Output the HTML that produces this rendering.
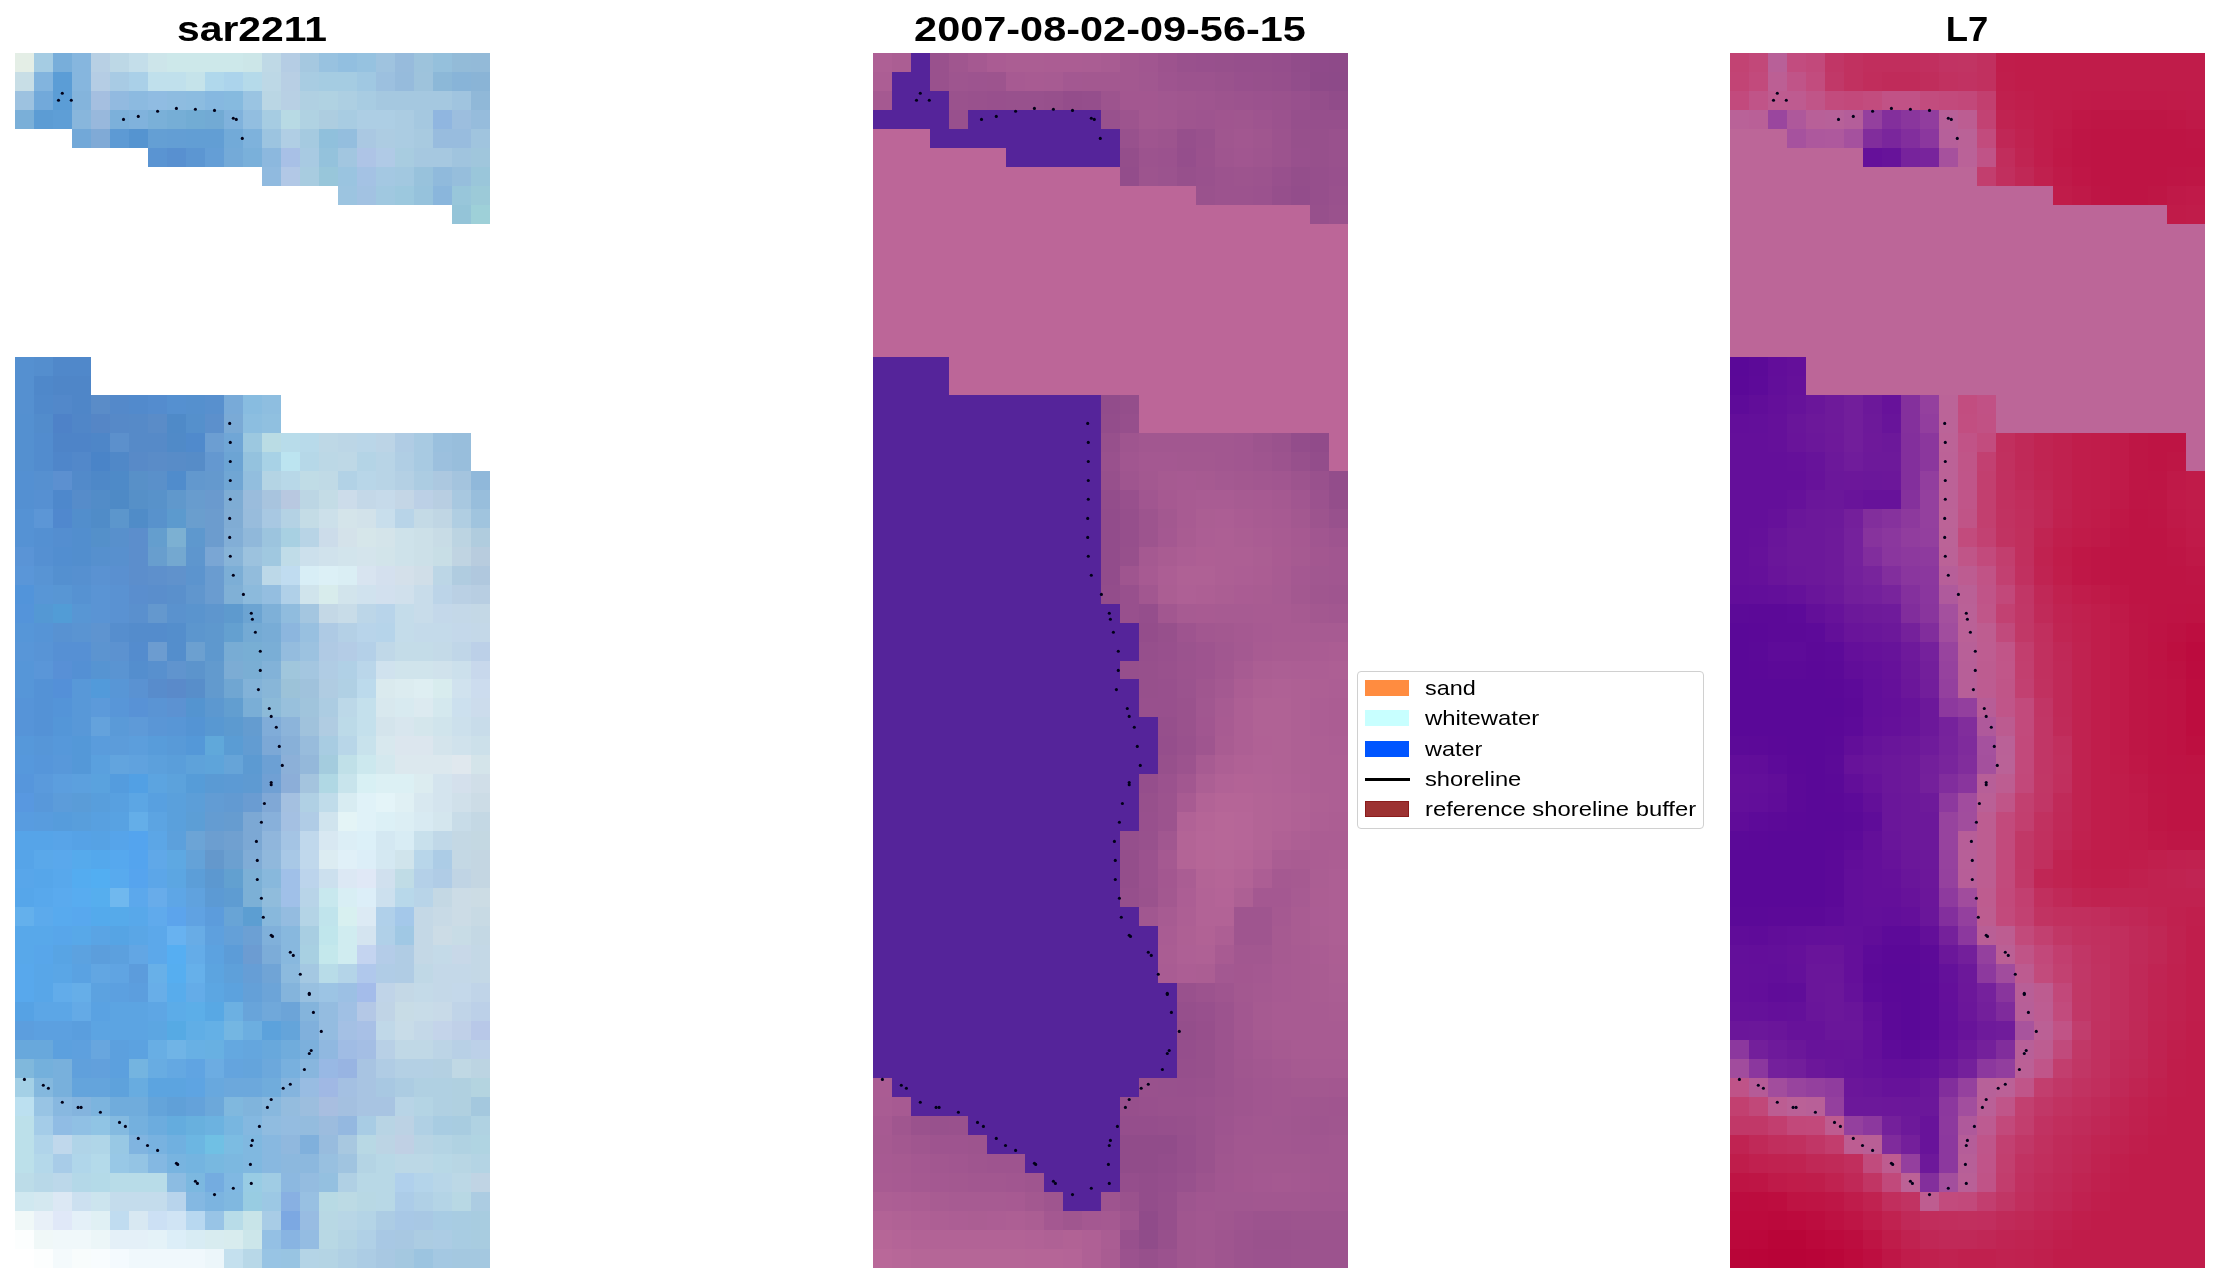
<!DOCTYPE html>
<html><head><meta charset="utf-8"><title>shoreline detection</title>
<style>
html,body{margin:0;padding:0;background:#fff}
body{width:2219px;height:1283px;position:relative;overflow:hidden;font-family:"Liberation Sans",sans-serif;color:#000}
.p{position:absolute;top:53px;display:block}
.t{position:absolute;top:9px;width:600px;text-align:center;font-weight:bold;font-size:35.8px;line-height:40px;white-space:nowrap;transform-origin:50% 50%;will-change:transform}
.lg{position:absolute;left:1357px;top:671px;width:345px;height:156px;border:1.4px solid #d0d0d0;border-radius:4px;background:#fff}
.sw{position:absolute;left:1365px;width:44px;height:16px}
.lt{position:absolute;left:1425px;font-size:21px;line-height:24px;white-space:nowrap;transform-origin:0 50%;transform:scaleX(1.13);will-change:transform}
</style></head><body>
<div class="t" id="t1" style="left:-48px;transform:scaleX(1.142)">sar2211</div>
<div class="t" id="t2" style="left:810px;transform:scaleX(1.158)">2007-08-02-09-56-15</div>
<div class="t" id="t3" style="left:1667px;transform:scaleX(1.02)">L7</div>
<svg class="p" style="left:15px" width="475" height="1215" viewBox="0 0 25 64" preserveAspectRatio="none" shape-rendering="crispEdges">
<path fill="#e4eee6" d="M0 0h1v1h-1z"/>
<path fill="#a5cce3" d="M1 0h1v1h-1z"/>
<path fill="#78aeda" d="M2 0h1v1h-1z"/>
<path fill="#86b6de" d="M3 0h1v1h-1zM3 1h1v1h-1z"/>
<path fill="#b8d0e4" d="M4 0h1v1h-1zM14 2h1v1h-1z"/>
<path fill="#bdd8e6" d="M5 0h1v1h-1zM13 1h1v1h-1z"/>
<path fill="#c4deea" d="M6 0h1v1h-1z"/>
<path fill="#cde5ea" d="M7 0h1v1h-1z"/>
<path fill="#cde8ea" d="M8 0h4v1h-4z"/>
<path fill="#cce6e8" d="M12 0h1v1h-1z"/>
<path fill="#bfd9e6" d="M13 0h1v1h-1z"/>
<path fill="#b5cde4" d="M14 0h1v1h-1zM4 1h1v1h-1z"/>
<path fill="#a5c8e0" d="M15 0h1v1h-1zM19 2h4v1h-4zM21 3h1v1h-1z"/>
<path fill="#98c2e0" d="M16 0h1v1h-1z"/>
<path fill="#92bfe0" d="M17 0h1v1h-1z"/>
<path fill="#96c2e0" d="M18 0h1v1h-1z"/>
<path fill="#9fc3df" d="M19 0h1v1h-1z"/>
<path fill="#97bbdc" d="M20 0h1v1h-1z"/>
<path fill="#9dc3dc" d="M21 0h1v1h-1z"/>
<path fill="#95c0dc" d="M22 0h1v1h-1z"/>
<path fill="#93bbd8" d="M23 0h1v1h-1z"/>
<path fill="#93bad8" d="M24 0h1v1h-1z"/>
<path fill="#c8dee6" d="M0 1h1v1h-1zM22 26h1v1h-1z"/>
<path fill="#82b4de" d="M1 1h1v1h-1z"/>
<path fill="#5b9dd6" d="M2 1h1v1h-1zM2 2h1v1h-1z"/>
<path fill="#a8cbe4" d="M5 1h1v1h-1z"/>
<path fill="#aad0e8" d="M6 1h1v1h-1z"/>
<path fill="#c0e0ec" d="M7 1h2v1h-2z"/>
<path fill="#c5e3ea" d="M9 1h1v1h-1z"/>
<path fill="#b0d8ec" d="M10 1h1v1h-1z"/>
<path fill="#acd4ec" d="M11 1h1v1h-1z"/>
<path fill="#b5daea" d="M12 1h1v1h-1z"/>
<path fill="#b8cfe4" d="M14 1h1v1h-1z"/>
<path fill="#a8cce2" d="M15 1h1v1h-1zM18 2h1v1h-1zM17 3h1v1h-1zM16 36h1v1h-1zM22 56h1v1h-1zM23 61h1v1h-1zM23 62h1v1h-1z"/>
<path fill="#a5cce2" d="M16 1h2v1h-2z"/>
<path fill="#a0c8e2" d="M18 1h1v1h-1z"/>
<path fill="#9cc0df" d="M19 1h1v1h-1z"/>
<path fill="#96bbdc" d="M20 1h1v1h-1z"/>
<path fill="#9ec3dc" d="M21 1h1v1h-1z"/>
<path fill="#8cb8d8" d="M22 1h1v1h-1z"/>
<path fill="#88b4d8" d="M23 1h1v1h-1zM11 26h1v1h-1z"/>
<path fill="#8ab4d6" d="M24 1h1v1h-1z"/>
<path fill="#9dc2e0" d="M0 2h1v1h-1z"/>
<path fill="#72a9da" d="M1 2h1v1h-1z"/>
<path fill="#84b4dc" d="M3 2h1v1h-1zM14 49h1v1h-1zM15 50h1v1h-1z"/>
<path fill="#a5bfe0" d="M4 2h1v1h-1z"/>
<path fill="#92bae0" d="M5 2h1v1h-1z"/>
<path fill="#8cbae0" d="M6 2h1v1h-1z"/>
<path fill="#90bce2" d="M7 2h1v1h-1z"/>
<path fill="#8ebce0" d="M8 2h1v1h-1z"/>
<path fill="#8cbce0" d="M9 2h1v1h-1z"/>
<path fill="#86b8e0" d="M10 2h1v1h-1z"/>
<path fill="#86badf" d="M11 2h1v1h-1z"/>
<path fill="#9ac4e2" d="M12 2h1v1h-1z"/>
<path fill="#bad6e4" d="M13 2h1v1h-1z"/>
<path fill="#b0d0e2" d="M15 2h1v1h-1zM21 54h2v1h-2zM22 55h1v1h-1z"/>
<path fill="#b0d2e2" d="M16 2h1v1h-1zM15 3h1v1h-1zM24 56h1v1h-1zM23 57h1v1h-1z"/>
<path fill="#adcfe2" d="M17 2h1v1h-1z"/>
<path fill="#a0c4df" d="M23 2h1v1h-1z"/>
<path fill="#90b8d8" d="M24 2h1v1h-1z"/>
<path fill="#7aafd8" d="M0 3h1v1h-1z"/>
<path fill="#5c9cd4" d="M1 3h1v1h-1z"/>
<path fill="#5e9ed6" d="M2 3h1v1h-1z"/>
<path fill="#88b6dc" d="M3 3h1v1h-1z"/>
<path fill="#98b8dc" d="M4 3h1v1h-1z"/>
<path fill="#7cb0da" d="M5 3h1v1h-1z"/>
<path fill="#80b2dc" d="M6 3h1v1h-1zM11 3h1v1h-1z"/>
<path fill="#7ab0d8" d="M7 3h1v1h-1z"/>
<path fill="#76aed6" d="M8 3h1v1h-1z"/>
<path fill="#72acd4" d="M9 3h1v1h-1z"/>
<path fill="#72aad4" d="M10 3h1v1h-1z"/>
<path fill="#92bee0" d="M12 3h1v1h-1z"/>
<path fill="#a6cce2" d="M13 3h1v1h-1z"/>
<path fill="#b8dae4" d="M14 3h1v1h-1zM16 60h1v1h-1z"/>
<path fill="#adcde0" d="M16 3h1v1h-1z"/>
<path fill="#adcee4" d="M18 3h2v1h-2z"/>
<path fill="#abcce2" d="M20 3h1v1h-1zM20 4h1v1h-1z"/>
<path fill="#90b6e0" d="M22 3h1v1h-1z"/>
<path fill="#9cbede" d="M23 3h1v1h-1zM15 55h1v1h-1z"/>
<path fill="#96bcdc" d="M24 3h1v1h-1z"/>
<path fill="#72a8d8" d="M3 4h1v1h-1z"/>
<path fill="#80aad6" d="M4 4h1v1h-1z"/>
<path fill="#5d9ad4" d="M5 4h1v1h-1z"/>
<path fill="#5594d0" d="M6 4h1v1h-1z"/>
<path fill="#649fd4" d="M7 4h1v1h-1z"/>
<path fill="#639ed4" d="M8 4h1v1h-1z"/>
<path fill="#629ed4" d="M9 4h2v1h-2z"/>
<path fill="#72aad8" d="M11 4h1v1h-1z"/>
<path fill="#7eb2dc" d="M12 4h1v1h-1z"/>
<path fill="#9cc4e0" d="M13 4h1v1h-1zM17 7h1v1h-1zM21 63h1v1h-1z"/>
<path fill="#b0cee4" d="M14 4h1v1h-1zM20 21h1v1h-1z"/>
<path fill="#a5cae0" d="M15 4h1v1h-1z"/>
<path fill="#90c0dc" d="M16 4h1v1h-1z"/>
<path fill="#94bede" d="M17 4h1v1h-1z"/>
<path fill="#aac8e2" d="M18 4h1v1h-1z"/>
<path fill="#adcce2" d="M19 4h1v1h-1z"/>
<path fill="#a8cae0" d="M21 4h1v1h-1z"/>
<path fill="#98bcde" d="M22 4h2v1h-2zM16 57h1v1h-1z"/>
<path fill="#a0c4de" d="M24 4h1v1h-1zM23 5h1v1h-1zM24 24h1v1h-1z"/>
<path fill="#5a94d2" d="M7 5h1v1h-1zM3 30h1v1h-1zM5 32h1v1h-1z"/>
<path fill="#5890d0" d="M8 5h1v1h-1z"/>
<path fill="#5c96d2" d="M9 5h1v1h-1z"/>
<path fill="#649ed6" d="M10 5h1v1h-1z"/>
<path fill="#74aad8" d="M11 5h1v1h-1z"/>
<path fill="#7ab0da" d="M12 5h1v1h-1z"/>
<path fill="#8cb8de" d="M13 5h1v1h-1zM14 58h2v1h-2z"/>
<path fill="#a8c0e6" d="M14 5h1v1h-1zM18 51h1v1h-1z"/>
<path fill="#a8cae2" d="M15 5h1v1h-1zM21 20h1v1h-1zM21 21h1v1h-1z"/>
<path fill="#94c2dc" d="M16 5h1v1h-1z"/>
<path fill="#a2c6e0" d="M17 5h1v1h-1z"/>
<path fill="#aec4e6" d="M18 5h1v1h-1z"/>
<path fill="#b0cae6" d="M19 5h1v1h-1z"/>
<path fill="#a8cce0" d="M20 5h1v1h-1zM15 6h1v1h-1zM23 56h1v1h-1zM24 61h1v1h-1zM24 62h1v1h-1z"/>
<path fill="#a6c8e0" d="M21 5h2v1h-2z"/>
<path fill="#a0c6dc" d="M24 5h1v1h-1zM14 32h1v1h-1z"/>
<path fill="#90badf" d="M13 6h1v1h-1z"/>
<path fill="#b2c8e6" d="M14 6h1v1h-1z"/>
<path fill="#98c6da" d="M16 6h1v1h-1zM23 7h1v1h-1z"/>
<path fill="#9ac4e0" d="M17 6h1v1h-1z"/>
<path fill="#a4c2e4" d="M18 6h1v1h-1z"/>
<path fill="#a4c8e2" d="M19 6h1v1h-1zM15 48h1v1h-1zM22 63h1v1h-1z"/>
<path fill="#a2c8e0" d="M20 6h1v1h-1z"/>
<path fill="#98c2dc" d="M21 6h1v1h-1z"/>
<path fill="#90badc" d="M22 6h1v1h-1z"/>
<path fill="#96bedc" d="M23 6h1v1h-1z"/>
<path fill="#9ac6da" d="M24 6h1v1h-1z"/>
<path fill="#a2c2e2" d="M18 7h1v1h-1z"/>
<path fill="#a0c8e0" d="M19 7h1v1h-1zM13 26h1v1h-1z"/>
<path fill="#9cc8de" d="M20 7h1v1h-1z"/>
<path fill="#96c2dc" d="M21 7h1v1h-1z"/>
<path fill="#8ab6dc" d="M22 7h1v1h-1z"/>
<path fill="#9ccad8" d="M24 7h1v1h-1z"/>
<path fill="#94c4d8" d="M23 8h1v1h-1z"/>
<path fill="#9ed0d8" d="M24 8h1v1h-1z"/>
<path fill="#5590d0" d="M0 16h1v1h-1zM0 17h1v1h-1zM0 18h1v1h-1zM8 18h1v1h-1z"/>
<path fill="#548ece" d="M1 16h1v1h-1zM6 32h1v1h-1z"/>
<path fill="#5088ca" d="M2 16h2v1h-2z"/>
<path fill="#4f88ca" d="M1 17h1v1h-1z"/>
<path fill="#4f86c8" d="M2 17h2v1h-2zM3 18h1v1h-1z"/>
<path fill="#5089cb" d="M1 18h1v1h-1z"/>
<path fill="#5288ca" d="M2 18h1v1h-1zM3 21h1v1h-1z"/>
<path fill="#5a8cc8" d="M4 18h1v1h-1zM7 19h1v1h-1zM7 21h1v1h-1z"/>
<path fill="#5489ca" d="M5 18h1v1h-1z"/>
<path fill="#528acc" d="M6 18h1v1h-1z"/>
<path fill="#548cce" d="M7 18h1v1h-1zM6 31h1v1h-1z"/>
<path fill="#5590ce" d="M9 18h1v1h-1z"/>
<path fill="#5890ce" d="M10 18h1v1h-1zM5 26h1v1h-1zM7 32h1v1h-1z"/>
<path fill="#78aad8" d="M11 18h1v1h-1z"/>
<path fill="#88bce0" d="M12 18h1v1h-1z"/>
<path fill="#8ebee0" d="M13 18h1v1h-1z"/>
<path fill="#5490d0" d="M0 19h1v1h-1zM0 20h1v1h-1zM0 21h1v1h-1zM2 27h1v1h-1z"/>
<path fill="#528ccc" d="M1 19h1v1h-1z"/>
<path fill="#4e82c8" d="M2 19h1v1h-1z"/>
<path fill="#5086c8" d="M3 19h1v1h-1z"/>
<path fill="#5586c6" d="M4 19h1v1h-1z"/>
<path fill="#5689c8" d="M5 19h1v1h-1z"/>
<path fill="#568ac8" d="M6 19h1v1h-1zM6 20h2v1h-2z"/>
<path fill="#4f8ac8" d="M8 19h1v1h-1z"/>
<path fill="#5590cc" d="M9 19h1v1h-1z"/>
<path fill="#5c90cc" d="M10 19h1v1h-1zM5 20h1v1h-1z"/>
<path fill="#7aaad6" d="M11 19h1v1h-1z"/>
<path fill="#8cbee0" d="M12 19h1v1h-1z"/>
<path fill="#90c0e0" d="M13 19h1v1h-1z"/>
<path fill="#528cce" d="M1 20h1v1h-1zM1 21h1v1h-1z"/>
<path fill="#4e84c8" d="M2 20h2v1h-2z"/>
<path fill="#4e86c8" d="M4 20h1v1h-1z"/>
<path fill="#508ac8" d="M8 20h1v1h-1z"/>
<path fill="#508acc" d="M9 20h1v1h-1z"/>
<path fill="#6c9ed2" d="M10 20h1v1h-1z"/>
<path fill="#70a6d6" d="M11 20h1v1h-1z"/>
<path fill="#9cc8e0" d="M12 20h1v1h-1z"/>
<path fill="#badce4" d="M13 20h1v1h-1z"/>
<path fill="#b8dcea" d="M14 20h1v1h-1z"/>
<path fill="#b8daea" d="M15 20h1v1h-1z"/>
<path fill="#bed8e6" d="M16 20h1v1h-1zM17 21h1v1h-1z"/>
<path fill="#bcd6e6" d="M17 20h1v1h-1zM22 27h1v1h-1z"/>
<path fill="#bad6e8" d="M18 20h1v1h-1z"/>
<path fill="#bcd4e6" d="M19 20h1v1h-1zM22 52h1v1h-1z"/>
<path fill="#b0cce4" d="M20 20h1v1h-1zM16 32h1v1h-1zM20 47h1v1h-1zM20 48h1v1h-1zM19 53h1v1h-1z"/>
<path fill="#9ac0de" d="M22 20h1v1h-1z"/>
<path fill="#98bedc" d="M23 20h1v1h-1zM23 21h1v1h-1zM24 23h1v1h-1z"/>
<path fill="#4f86ca" d="M2 21h1v1h-1z"/>
<path fill="#4a84c8" d="M4 21h1v1h-1z"/>
<path fill="#5088c8" d="M5 21h1v1h-1z"/>
<path fill="#588ac8" d="M6 21h1v1h-1z"/>
<path fill="#588cc8" d="M8 21h1v1h-1z"/>
<path fill="#568cc8" d="M9 21h1v1h-1z"/>
<path fill="#6498d0" d="M10 21h1v1h-1z"/>
<path fill="#6ca4d4" d="M11 21h1v1h-1z"/>
<path fill="#94c2de" d="M12 21h1v1h-1z"/>
<path fill="#a8d2e6" d="M13 21h1v1h-1z"/>
<path fill="#bce4f0" d="M14 21h1v1h-1z"/>
<path fill="#b6d8e8" d="M15 21h1v1h-1z"/>
<path fill="#bcd8e6" d="M16 21h1v1h-1zM20 58h2v1h-2zM23 59h1v1h-1z"/>
<path fill="#b4d4e6" d="M18 21h1v1h-1zM15 45h1v1h-1zM22 60h1v1h-1zM18 61h1v1h-1zM15 63h1v1h-1z"/>
<path fill="#b8d4e6" d="M19 21h1v1h-1zM19 22h1v1h-1zM15 25h1v1h-1zM20 55h1v1h-1z"/>
<path fill="#9cc0de" d="M22 21h1v1h-1z"/>
<path fill="#5490d2" d="M0 22h1v1h-1zM0 23h1v1h-1zM1 25h1v1h-1z"/>
<path fill="#5690d0" d="M1 22h1v1h-1zM3 27h1v1h-1z"/>
<path fill="#5c90d0" d="M2 22h1v1h-1z"/>
<path fill="#528aca" d="M3 22h1v1h-1z"/>
<path fill="#4e88c8" d="M4 22h1v1h-1z"/>
<path fill="#4e8ac8" d="M5 22h1v1h-1z"/>
<path fill="#5890c8" d="M6 22h1v1h-1z"/>
<path fill="#5a90ca" d="M7 22h1v1h-1z"/>
<path fill="#508ccc" d="M8 22h1v1h-1z"/>
<path fill="#6298ce" d="M9 22h1v1h-1z"/>
<path fill="#6499ce" d="M10 22h1v1h-1z"/>
<path fill="#70a6d4" d="M11 22h1v1h-1z"/>
<path fill="#92bede" d="M12 22h1v1h-1z"/>
<path fill="#b4d4e4" d="M13 22h1v1h-1zM21 55h1v1h-1zM22 57h1v1h-1zM18 58h1v1h-1zM24 58h1v1h-1zM17 62h1v1h-1zM16 63h1v1h-1z"/>
<path fill="#b8d8e8" d="M14 22h1v1h-1zM1 59h1v1h-1zM12 63h1v1h-1z"/>
<path fill="#c0dce6" d="M15 22h1v1h-1zM20 43h1v1h-1z"/>
<path fill="#c0dae6" d="M16 22h1v1h-1z"/>
<path fill="#b2d2e6" d="M17 22h1v1h-1z"/>
<path fill="#b8d6e8" d="M18 22h1v1h-1zM17 36h1v1h-1zM22 59h1v1h-1z"/>
<path fill="#b4d0e4" d="M20 22h1v1h-1zM20 53h2v1h-2z"/>
<path fill="#accce2" d="M21 22h1v1h-1zM16 34h1v1h-1zM20 54h1v1h-1zM24 60h1v1h-1zM21 62h1v1h-1z"/>
<path fill="#acc8e0" d="M22 22h1v1h-1z"/>
<path fill="#a4c4de" d="M23 22h1v1h-1zM15 38h1v1h-1z"/>
<path fill="#90b8da" d="M24 22h1v1h-1zM12 25h1v1h-1z"/>
<path fill="#5690d2" d="M1 23h1v1h-1z"/>
<path fill="#4e88cc" d="M2 23h1v1h-1z"/>
<path fill="#568cca" d="M3 23h1v1h-1z"/>
<path fill="#528cc8" d="M4 23h1v1h-1z"/>
<path fill="#4e8ac6" d="M5 23h1v1h-1z"/>
<path fill="#5690c8" d="M6 23h1v1h-1z"/>
<path fill="#5892ca" d="M7 23h1v1h-1z"/>
<path fill="#6098cc" d="M8 23h1v1h-1z"/>
<path fill="#689cce" d="M9 23h1v1h-1z"/>
<path fill="#6a9ace" d="M10 23h1v1h-1z"/>
<path fill="#7eacd4" d="M11 23h1v1h-1z"/>
<path fill="#9abcdc" d="M12 23h1v1h-1z"/>
<path fill="#a8c4de" d="M13 23h1v1h-1z"/>
<path fill="#b8c8e0" d="M14 23h1v1h-1z"/>
<path fill="#bcd6e4" d="M15 23h1v1h-1z"/>
<path fill="#c4dce6" d="M16 23h1v1h-1zM15 24h1v1h-1z"/>
<path fill="#ccdcea" d="M17 23h1v1h-1zM16 25h1v1h-1z"/>
<path fill="#c4d8e8" d="M18 23h1v1h-1zM23 29h1v1h-1zM24 30h1v1h-1zM22 48h2v1h-2zM22 49h1v1h-1zM21 51h1v1h-1z"/>
<path fill="#c6daea" d="M19 23h1v1h-1z"/>
<path fill="#c4d6e6" d="M20 23h1v1h-1z"/>
<path fill="#bcd0e6" d="M21 23h1v1h-1z"/>
<path fill="#b8cee2" d="M22 23h1v1h-1zM24 28h1v1h-1z"/>
<path fill="#a8c8e0" d="M23 23h1v1h-1zM17 57h1v1h-1z"/>
<path fill="#5592d4" d="M0 24h1v1h-1zM0 25h1v1h-1z"/>
<path fill="#5c96d6" d="M1 24h1v1h-1z"/>
<path fill="#5088ce" d="M2 24h1v1h-1z"/>
<path fill="#528ecc" d="M3 24h1v1h-1z"/>
<path fill="#508cc8" d="M4 24h1v1h-1zM6 24h1v1h-1z"/>
<path fill="#5c96cc" d="M5 24h1v1h-1z"/>
<path fill="#5892cc" d="M7 24h1v1h-1z"/>
<path fill="#5c9ace" d="M8 24h1v1h-1z"/>
<path fill="#6a9ece" d="M9 24h1v1h-1z"/>
<path fill="#6c9cce" d="M10 24h1v1h-1zM10 25h1v1h-1z"/>
<path fill="#80acd4" d="M11 24h1v1h-1z"/>
<path fill="#98bcdc" d="M12 24h1v1h-1zM15 36h1v1h-1z"/>
<path fill="#a8c8e2" d="M13 24h1v1h-1zM19 54h1v1h-1zM20 62h1v1h-1zM19 63h1v1h-1z"/>
<path fill="#b4d2e4" d="M14 24h1v1h-1z"/>
<path fill="#cce0ea" d="M16 24h1v1h-1zM24 36h1v1h-1z"/>
<path fill="#d4e4ea" d="M17 24h1v1h-1zM19 25h1v1h-1zM24 37h1v1h-1z"/>
<path fill="#d2e2ea" d="M18 24h1v1h-1z"/>
<path fill="#c8deec" d="M19 24h1v1h-1z"/>
<path fill="#b8d4e8" d="M20 24h1v1h-1zM15 44h1v1h-1zM21 44h1v1h-1z"/>
<path fill="#c4dae6" d="M21 24h1v1h-1z"/>
<path fill="#c0d6e4" d="M22 24h1v1h-1z"/>
<path fill="#b0cee2" d="M23 24h1v1h-1z"/>
<path fill="#548ed0" d="M2 25h1v1h-1z"/>
<path fill="#528ece" d="M3 25h1v1h-1zM3 26h1v1h-1z"/>
<path fill="#5490ca" d="M4 25h1v1h-1z"/>
<path fill="#5890cc" d="M5 25h1v1h-1z"/>
<path fill="#5c8ecc" d="M6 25h1v1h-1zM6 26h1v1h-1zM6 27h1v1h-1z"/>
<path fill="#649ece" d="M7 25h1v1h-1z"/>
<path fill="#7cb0d2" d="M8 25h1v1h-1z"/>
<path fill="#5e98ce" d="M9 25h1v1h-1zM10 30h1v1h-1zM10 31h1v1h-1z"/>
<path fill="#82aed6" d="M11 25h1v1h-1z"/>
<path fill="#9cc4de" d="M13 25h1v1h-1z"/>
<path fill="#a8d0e2" d="M14 25h1v1h-1zM15 47h1v1h-1z"/>
<path fill="#d4e2ea" d="M17 25h1v1h-1z"/>
<path fill="#d6e6ea" d="M18 25h1v1h-1z"/>
<path fill="#cee2ea" d="M20 25h1v1h-1zM20 26h1v1h-1z"/>
<path fill="#cce0e8" d="M21 25h1v1h-1zM21 26h1v1h-1z"/>
<path fill="#c8dce6" d="M22 25h1v1h-1zM23 46h1v1h-1zM20 50h1v1h-1z"/>
<path fill="#bcd4e2" d="M23 25h1v1h-1zM24 53h1v1h-1z"/>
<path fill="#b0ccde" d="M24 25h1v1h-1z"/>
<path fill="#5a94d6" d="M0 26h1v1h-1z"/>
<path fill="#5590d2" d="M1 26h1v1h-1z"/>
<path fill="#528ed0" d="M2 26h1v1h-1z"/>
<path fill="#5690ce" d="M4 26h1v1h-1z"/>
<path fill="#689ece" d="M7 26h1v1h-1z"/>
<path fill="#74a8d0" d="M8 26h1v1h-1z"/>
<path fill="#5e96ce" d="M9 26h1v1h-1zM10 29h1v1h-1z"/>
<path fill="#7aa6d4" d="M10 26h1v1h-1z"/>
<path fill="#9cc2de" d="M12 26h1v1h-1z"/>
<path fill="#c0dce8" d="M14 26h1v1h-1z"/>
<path fill="#cce0ec" d="M15 26h1v1h-1zM23 32h1v1h-1zM23 35h1v1h-1z"/>
<path fill="#d0e2ec" d="M16 26h1v1h-1zM22 32h1v1h-1zM23 36h1v1h-1z"/>
<path fill="#d2e4ec" d="M17 26h1v1h-1zM17 28h1v1h-1z"/>
<path fill="#d4e4ec" d="M18 26h1v1h-1zM19 35h1v1h-1zM22 36h1v1h-1z"/>
<path fill="#d2e4ea" d="M19 26h1v1h-1z"/>
<path fill="#c0d4e2" d="M23 26h1v1h-1z"/>
<path fill="#b8ccde" d="M24 26h1v1h-1z"/>
<path fill="#5a96d8" d="M0 27h1v1h-1zM1 32h1v1h-1z"/>
<path fill="#5894d4" d="M1 27h1v1h-1z"/>
<path fill="#5a92d2" d="M4 27h1v1h-1zM5 28h1v1h-1zM5 29h1v1h-1zM6 33h1v1h-1z"/>
<path fill="#5a90d0" d="M5 27h1v1h-1z"/>
<path fill="#5e90cc" d="M7 27h1v1h-1z"/>
<path fill="#6092cc" d="M8 27h1v1h-1z"/>
<path fill="#5c94ce" d="M9 27h1v1h-1z"/>
<path fill="#6a9cd0" d="M10 27h1v1h-1zM10 28h1v1h-1z"/>
<path fill="#7caed6" d="M11 27h1v1h-1z"/>
<path fill="#92bcdc" d="M12 27h1v1h-1z"/>
<path fill="#bcd8e8" d="M13 27h1v1h-1zM17 34h1v1h-1z"/>
<path fill="#c0dcf0" d="M14 27h1v1h-1zM5 61h1v1h-1z"/>
<path fill="#d8eef6" d="M15 27h1v1h-1z"/>
<path fill="#dcf0f6" d="M16 27h1v1h-1zM19 40h1v1h-1z"/>
<path fill="#daeef4" d="M17 27h1v1h-1z"/>
<path fill="#d8e4f0" d="M18 27h1v1h-1z"/>
<path fill="#d4e0ee" d="M19 27h1v1h-1z"/>
<path fill="#d4e0ea" d="M20 27h1v1h-1z"/>
<path fill="#d0dee8" d="M21 27h1v1h-1zM24 38h1v1h-1z"/>
<path fill="#b0cce0" d="M23 27h1v1h-1z"/>
<path fill="#b0c8de" d="M24 27h1v1h-1z"/>
<path fill="#5294da" d="M0 28h1v1h-1z"/>
<path fill="#5896d6" d="M1 28h1v1h-1zM5 33h1v1h-1zM8 35h1v1h-1z"/>
<path fill="#5896d4" d="M2 28h1v1h-1zM3 29h1v1h-1z"/>
<path fill="#5692d2" d="M3 28h1v1h-1z"/>
<path fill="#5a94d4" d="M4 28h1v1h-1zM4 29h1v1h-1zM7 34h1v1h-1z"/>
<path fill="#5a8ece" d="M6 28h1v1h-1z"/>
<path fill="#5a8ecc" d="M7 28h1v1h-1z"/>
<path fill="#5a90cc" d="M8 28h1v1h-1z"/>
<path fill="#6096ce" d="M9 28h1v1h-1z"/>
<path fill="#80b0d6" d="M11 28h1v1h-1z"/>
<path fill="#8cbadc" d="M12 28h1v1h-1z"/>
<path fill="#94bee0" d="M13 28h1v1h-1z"/>
<path fill="#b0d0e8" d="M14 28h1v1h-1zM19 46h1v1h-1z"/>
<path fill="#d0e4ec" d="M15 28h1v1h-1zM20 32h2v1h-2zM22 35h1v1h-1zM20 42h1v1h-1z"/>
<path fill="#d8ecec" d="M16 28h1v1h-1z"/>
<path fill="#d0e2ee" d="M18 28h1v1h-1zM19 32h1v1h-1zM23 33h1v1h-1z"/>
<path fill="#d2e0ee" d="M19 28h1v1h-1z"/>
<path fill="#d0e0ec" d="M20 28h1v1h-1z"/>
<path fill="#c8dcea" d="M21 28h1v1h-1zM21 29h1v1h-1zM24 35h1v1h-1z"/>
<path fill="#bcd4e8" d="M22 28h1v1h-1z"/>
<path fill="#bad0e4" d="M23 28h1v1h-1z"/>
<path fill="#5494da" d="M0 29h1v1h-1z"/>
<path fill="#5498d4" d="M1 29h1v1h-1z"/>
<path fill="#529cd6" d="M2 29h1v1h-1z"/>
<path fill="#5a90ce" d="M6 29h1v1h-1z"/>
<path fill="#6498ce" d="M7 29h1v1h-1z"/>
<path fill="#5a92ce" d="M8 29h1v1h-1z"/>
<path fill="#5a94ce" d="M9 29h1v1h-1z"/>
<path fill="#5e9ace" d="M11 29h1v1h-1z"/>
<path fill="#6ca4d2" d="M12 29h1v1h-1z"/>
<path fill="#7eb0d8" d="M13 29h1v1h-1z"/>
<path fill="#90bcde" d="M14 29h1v1h-1z"/>
<path fill="#a4c6e0" d="M15 29h1v1h-1zM15 32h1v1h-1z"/>
<path fill="#c4d8e6" d="M16 29h1v1h-1zM24 29h1v1h-1zM21 45h1v1h-1zM21 46h1v1h-1zM21 47h1v1h-1zM24 47h1v1h-1zM24 48h1v1h-1zM20 49h1v1h-1z"/>
<path fill="#c8dce8" d="M17 29h1v1h-1zM23 40h1v1h-1zM21 50h1v1h-1zM20 51h1v1h-1z"/>
<path fill="#bcd6e8" d="M18 29h1v1h-1z"/>
<path fill="#b8d4ea" d="M19 29h1v1h-1zM18 30h1v1h-1z"/>
<path fill="#c4dcea" d="M20 29h1v1h-1zM20 30h1v1h-1z"/>
<path fill="#c4d8ea" d="M22 29h1v1h-1zM23 30h1v1h-1zM23 49h1v1h-1z"/>
<path fill="#5696d8" d="M0 30h1v1h-1zM0 32h1v1h-1zM0 33h1v1h-1zM1 36h1v1h-1z"/>
<path fill="#5694d6" d="M1 30h1v1h-1z"/>
<path fill="#5892d2" d="M2 30h1v1h-1z"/>
<path fill="#5e94d0" d="M4 30h1v1h-1z"/>
<path fill="#568ece" d="M5 30h1v1h-1z"/>
<path fill="#548ccc" d="M6 30h2v1h-2z"/>
<path fill="#548ecc" d="M8 30h1v1h-1zM8 31h1v1h-1z"/>
<path fill="#5c96ce" d="M9 30h1v1h-1z"/>
<path fill="#64a0d0" d="M11 30h1v1h-1z"/>
<path fill="#74aad4" d="M12 30h1v1h-1z"/>
<path fill="#78acd6" d="M13 30h1v1h-1z"/>
<path fill="#8cb6de" d="M14 30h1v1h-1z"/>
<path fill="#98c0e0" d="M15 30h1v1h-1zM15 49h1v1h-1zM16 58h1v1h-1z"/>
<path fill="#aecae4" d="M16 30h1v1h-1z"/>
<path fill="#b4d0e6" d="M17 30h1v1h-1z"/>
<path fill="#b6d4ea" d="M19 30h1v1h-1z"/>
<path fill="#c4daea" d="M21 30h2v1h-2z"/>
<path fill="#5896d8" d="M0 31h1v1h-1zM5 34h1v1h-1z"/>
<path fill="#5894d6" d="M1 31h1v1h-1z"/>
<path fill="#5690d4" d="M2 31h2v1h-2z"/>
<path fill="#5c94d0" d="M4 31h1v1h-1z"/>
<path fill="#5c92d0" d="M5 31h1v1h-1z"/>
<path fill="#6c9cd0" d="M7 31h1v1h-1z"/>
<path fill="#6ca0d0" d="M9 31h1v1h-1zM11 42h1v1h-1z"/>
<path fill="#78acd4" d="M11 31h1v1h-1z"/>
<path fill="#78aed4" d="M12 31h1v1h-1z"/>
<path fill="#7aaed6" d="M13 31h1v1h-1zM12 34h1v1h-1z"/>
<path fill="#94bcde" d="M14 31h1v1h-1zM14 55h1v1h-1zM15 56h1v1h-1z"/>
<path fill="#9cc2e0" d="M15 31h1v1h-1z"/>
<path fill="#b0cae4" d="M16 31h1v1h-1z"/>
<path fill="#b4cce6" d="M17 31h1v1h-1z"/>
<path fill="#b4d0e8" d="M18 31h1v1h-1zM21 43h1v1h-1z"/>
<path fill="#c0d8e8" d="M19 31h1v1h-1zM22 41h1v1h-1zM19 51h1v1h-1z"/>
<path fill="#c4dce8" d="M20 31h2v1h-2z"/>
<path fill="#c4dae8" d="M22 31h1v1h-1zM22 47h1v1h-1zM21 49h1v1h-1z"/>
<path fill="#c0d6e8" d="M23 31h1v1h-1z"/>
<path fill="#bcd0e8" d="M24 31h1v1h-1zM24 50h1v1h-1zM24 52h1v1h-1z"/>
<path fill="#5890d6" d="M2 32h1v1h-1z"/>
<path fill="#5490d4" d="M3 32h1v1h-1z"/>
<path fill="#5694d2" d="M4 32h1v1h-1z"/>
<path fill="#6094ce" d="M8 32h1v1h-1z"/>
<path fill="#5c94cc" d="M9 32h1v1h-1z"/>
<path fill="#629ace" d="M10 32h1v1h-1zM10 33h1v1h-1z"/>
<path fill="#7cacd4" d="M11 32h1v1h-1z"/>
<path fill="#7aaed4" d="M12 32h1v1h-1z"/>
<path fill="#82b2d8" d="M13 32h1v1h-1zM12 33h1v1h-1z"/>
<path fill="#b0d0e6" d="M17 32h1v1h-1zM21 60h1v1h-1zM18 62h1v1h-1z"/>
<path fill="#bad6ea" d="M18 32h1v1h-1z"/>
<path fill="#c8d8ec" d="M24 32h1v1h-1z"/>
<path fill="#5492d6" d="M1 33h1v1h-1zM1 34h1v1h-1zM1 35h1v1h-1z"/>
<path fill="#5490d8" d="M2 33h1v1h-1z"/>
<path fill="#5898d8" d="M3 33h1v1h-1zM3 34h1v1h-1zM3 35h1v1h-1z"/>
<path fill="#529ada" d="M4 33h1v1h-1z"/>
<path fill="#588ccc" d="M7 33h1v1h-1z"/>
<path fill="#5a8aca" d="M8 33h1v1h-1z"/>
<path fill="#588eca" d="M9 33h1v1h-1z"/>
<path fill="#70a6d2" d="M11 33h1v1h-1z"/>
<path fill="#88b6d8" d="M13 33h1v1h-1z"/>
<path fill="#9cc2d8" d="M14 33h1v1h-1z"/>
<path fill="#a0c2dc" d="M15 33h1v1h-1zM15 35h1v1h-1z"/>
<path fill="#b0cce2" d="M16 33h1v1h-1zM16 35h1v1h-1z"/>
<path fill="#b0d0e4" d="M17 33h1v1h-1zM15 39h1v1h-1zM21 56h1v1h-1zM17 59h1v1h-1zM17 63h1v1h-1z"/>
<path fill="#bcdaec" d="M18 33h1v1h-1z"/>
<path fill="#daeaee" d="M19 33h1v1h-1z"/>
<path fill="#dcecf0" d="M20 33h1v1h-1zM21 38h1v1h-1z"/>
<path fill="#deeef2" d="M21 33h1v1h-1z"/>
<path fill="#d8ecee" d="M22 33h1v1h-1zM11 62h1v1h-1z"/>
<path fill="#ccdcee" d="M24 33h1v1h-1z"/>
<path fill="#5694d8" d="M0 34h1v1h-1zM0 35h1v1h-1z"/>
<path fill="#5494d8" d="M2 34h1v1h-1z"/>
<path fill="#5c9ada" d="M4 34h1v1h-1z"/>
<path fill="#5892d6" d="M6 34h1v1h-1z"/>
<path fill="#5c92d2" d="M8 34h1v1h-1z"/>
<path fill="#5494d0" d="M9 34h1v1h-1z"/>
<path fill="#5c98d0" d="M10 34h1v1h-1zM10 43h1v1h-1z"/>
<path fill="#629ed0" d="M11 34h1v1h-1z"/>
<path fill="#8cbad8" d="M13 34h1v1h-1z"/>
<path fill="#98c0dc" d="M14 34h1v1h-1z"/>
<path fill="#a0c4dc" d="M15 34h1v1h-1z"/>
<path fill="#c4e0ec" d="M18 34h1v1h-1zM18 35h1v1h-1z"/>
<path fill="#d8e8ee" d="M19 34h1v1h-1zM19 36h1v1h-1z"/>
<path fill="#d8eaf0" d="M20 34h1v1h-1z"/>
<path fill="#dceaf0" d="M21 34h1v1h-1z"/>
<path fill="#d4e8ee" d="M22 34h1v1h-1zM19 37h1v1h-1z"/>
<path fill="#cce0ee" d="M23 34h1v1h-1zM16 43h1v1h-1zM19 44h1v1h-1z"/>
<path fill="#ccdcec" d="M24 34h1v1h-1z"/>
<path fill="#5496d8" d="M2 35h1v1h-1z"/>
<path fill="#64a2dc" d="M4 35h1v1h-1z"/>
<path fill="#5a9ad8" d="M5 35h1v1h-1z"/>
<path fill="#5e9ad8" d="M6 35h1v1h-1z"/>
<path fill="#5a96d6" d="M7 35h1v1h-1z"/>
<path fill="#5494d4" d="M9 35h1v1h-1z"/>
<path fill="#5898d2" d="M10 35h1v1h-1z"/>
<path fill="#5c9ad0" d="M11 35h1v1h-1z"/>
<path fill="#649cd0" d="M12 35h1v1h-1z"/>
<path fill="#80acd8" d="M13 35h1v1h-1z"/>
<path fill="#8cb4da" d="M14 35h1v1h-1z"/>
<path fill="#bcdae8" d="M17 35h1v1h-1z"/>
<path fill="#d8e6ee" d="M20 35h1v1h-1z"/>
<path fill="#d4e6ec" d="M21 35h1v1h-1z"/>
<path fill="#5698da" d="M0 36h1v1h-1zM2 36h1v1h-1z"/>
<path fill="#5498d8" d="M3 36h1v1h-1zM9 36h1v1h-1zM3 37h1v1h-1z"/>
<path fill="#5a9cdc" d="M4 36h1v1h-1z"/>
<path fill="#5c9cda" d="M5 36h1v1h-1zM2 39h1v1h-1z"/>
<path fill="#5c9edc" d="M6 36h1v1h-1zM4 47h1v1h-1z"/>
<path fill="#589cda" d="M7 36h1v1h-1z"/>
<path fill="#589ad8" d="M8 36h1v1h-1z"/>
<path fill="#60a8da" d="M10 36h1v1h-1z"/>
<path fill="#5a9cd4" d="M11 36h1v1h-1z"/>
<path fill="#629cd2" d="M12 36h1v1h-1z"/>
<path fill="#7ca8d6" d="M13 36h1v1h-1z"/>
<path fill="#88b0d8" d="M14 36h1v1h-1z"/>
<path fill="#c8e2ec" d="M18 36h1v1h-1z"/>
<path fill="#dce6ee" d="M20 36h2v1h-2z"/>
<path fill="#5698dc" d="M0 37h1v1h-1z"/>
<path fill="#5696da" d="M1 37h1v1h-1z"/>
<path fill="#5898da" d="M2 37h1v1h-1zM1 39h1v1h-1z"/>
<path fill="#5aa0de" d="M4 37h1v1h-1z"/>
<path fill="#62a4de" d="M5 37h1v1h-1z"/>
<path fill="#60a2de" d="M6 37h1v1h-1zM9 44h1v1h-1z"/>
<path fill="#5ca0dc" d="M7 37h1v1h-1zM8 41h1v1h-1z"/>
<path fill="#5a9eda" d="M8 37h1v1h-1z"/>
<path fill="#5ea2da" d="M9 37h1v1h-1z"/>
<path fill="#5ea4da" d="M10 37h1v1h-1z"/>
<path fill="#66a4d8" d="M11 37h1v1h-1z"/>
<path fill="#5c9ad2" d="M12 37h1v1h-1z"/>
<path fill="#6ca0d4" d="M13 37h1v1h-1zM12 46h1v1h-1z"/>
<path fill="#8cb0d8" d="M14 37h1v1h-1z"/>
<path fill="#94b8da" d="M15 37h1v1h-1z"/>
<path fill="#a4ccde" d="M16 37h1v1h-1z"/>
<path fill="#c0e0e8" d="M17 37h1v1h-1z"/>
<path fill="#cce8ee" d="M18 37h1v1h-1z"/>
<path fill="#dce8ee" d="M20 37h3v1h-3z"/>
<path fill="#e0e8ee" d="M23 37h1v1h-1z"/>
<path fill="#5696dc" d="M0 38h1v1h-1z"/>
<path fill="#5a9adc" d="M1 38h1v1h-1z"/>
<path fill="#5c9ede" d="M2 38h1v1h-1zM6 49h1v1h-1zM0 51h1v1h-1z"/>
<path fill="#5ca0de" d="M3 38h1v1h-1zM5 47h1v1h-1zM2 52h1v1h-1zM5 52h1v1h-1zM5 53h1v1h-1z"/>
<path fill="#5aa2de" d="M4 38h1v1h-1z"/>
<path fill="#549cde" d="M5 38h1v1h-1z"/>
<path fill="#52a0e4" d="M6 38h1v1h-1z"/>
<path fill="#5ca4e0" d="M7 38h1v1h-1zM10 48h1v1h-1zM7 54h2v1h-2z"/>
<path fill="#5ca2dc" d="M8 38h1v1h-1zM13 51h1v1h-1z"/>
<path fill="#569cd8" d="M9 38h1v1h-1z"/>
<path fill="#5a9ad4" d="M10 38h1v1h-1z"/>
<path fill="#5c9ad4" d="M11 38h1v1h-1zM10 44h1v1h-1z"/>
<path fill="#5e9ad2" d="M12 38h1v1h-1z"/>
<path fill="#70a0d4" d="M13 38h1v1h-1z"/>
<path fill="#8caed8" d="M14 38h1v1h-1z"/>
<path fill="#b0d8e4" d="M16 38h1v1h-1z"/>
<path fill="#c8e4ec" d="M17 38h1v1h-1z"/>
<path fill="#d8f0f4" d="M18 38h1v1h-1z"/>
<path fill="#dcf0f4" d="M19 38h2v1h-2z"/>
<path fill="#d4e4ee" d="M22 38h1v1h-1zM22 39h1v1h-1z"/>
<path fill="#d4e0ec" d="M23 38h1v1h-1z"/>
<path fill="#5898e0" d="M0 39h1v1h-1z"/>
<path fill="#5a9cd8" d="M3 39h1v1h-1z"/>
<path fill="#589edc" d="M4 39h1v1h-1zM3 40h1v1h-1z"/>
<path fill="#58a0e0" d="M5 39h1v1h-1zM7 39h1v1h-1zM4 40h1v1h-1z"/>
<path fill="#5ca6e4" d="M6 39h1v1h-1z"/>
<path fill="#5aa0dc" d="M8 39h1v1h-1zM8 40h1v1h-1z"/>
<path fill="#5c9ed8" d="M9 39h1v1h-1zM9 43h1v1h-1z"/>
<path fill="#629cd4" d="M10 39h1v1h-1z"/>
<path fill="#629ad2" d="M11 39h1v1h-1z"/>
<path fill="#6a9cd2" d="M12 39h1v1h-1z"/>
<path fill="#80a8d6" d="M13 39h1v1h-1z"/>
<path fill="#a4c0e0" d="M14 39h1v1h-1zM17 55h1v1h-1z"/>
<path fill="#c0dcea" d="M16 39h1v1h-1z"/>
<path fill="#d8ecf2" d="M17 39h1v1h-1z"/>
<path fill="#e0f2f8" d="M18 39h1v1h-1zM18 40h1v1h-1z"/>
<path fill="#e4f4f8" d="M19 39h1v1h-1z"/>
<path fill="#e0f0f4" d="M20 39h1v1h-1zM4 61h1v1h-1z"/>
<path fill="#d8e8f0" d="M21 39h1v1h-1z"/>
<path fill="#d0e0ea" d="M23 39h1v1h-1z"/>
<path fill="#ccdce6" d="M24 39h1v1h-1zM23 44h1v1h-1zM23 45h1v1h-1zM22 46h1v1h-1z"/>
<path fill="#589ce0" d="M0 40h1v1h-1z"/>
<path fill="#589cde" d="M1 40h1v1h-1z"/>
<path fill="#569cdc" d="M2 40h1v1h-1z"/>
<path fill="#58a2e2" d="M5 40h1v1h-1z"/>
<path fill="#64aee8" d="M6 40h1v1h-1z"/>
<path fill="#5ca4e2" d="M7 40h1v1h-1zM5 50h2v1h-2zM4 51h3v1h-3z"/>
<path fill="#5c9ed6" d="M9 40h1v1h-1z"/>
<path fill="#649cd2" d="M10 40h1v1h-1z"/>
<path fill="#669cd0" d="M11 40h1v1h-1z"/>
<path fill="#7ca8d4" d="M12 40h1v1h-1zM12 41h1v1h-1z"/>
<path fill="#88b0da" d="M13 40h1v1h-1z"/>
<path fill="#a4c0e2" d="M14 40h1v1h-1zM17 54h1v1h-1z"/>
<path fill="#b0cce6" d="M15 40h1v1h-1zM22 43h1v1h-1zM19 48h1v1h-1z"/>
<path fill="#d0e4ee" d="M16 40h1v1h-1z"/>
<path fill="#e4f4f6" d="M17 40h1v1h-1z"/>
<path fill="#dceef4" d="M20 40h1v1h-1z"/>
<path fill="#d8eaf2" d="M21 40h1v1h-1z"/>
<path fill="#d4e6ee" d="M22 40h1v1h-1z"/>
<path fill="#c4d8e4" d="M24 40h1v1h-1zM23 41h1v1h-1zM23 42h1v1h-1zM22 44h1v1h-1zM24 46h1v1h-1z"/>
<path fill="#56a4e8" d="M0 41h2v1h-2zM0 42h1v1h-1z"/>
<path fill="#58a4e8" d="M2 41h1v1h-1z"/>
<path fill="#56a2e6" d="M3 41h1v1h-1z"/>
<path fill="#56a2e4" d="M4 41h1v1h-1zM0 50h1v1h-1z"/>
<path fill="#56a4ea" d="M5 41h1v1h-1z"/>
<path fill="#54a4ee" d="M6 41h1v1h-1zM6 42h1v1h-1z"/>
<path fill="#5ca6e6" d="M7 41h1v1h-1zM1 50h2v1h-2z"/>
<path fill="#6ca4d6" d="M9 41h1v1h-1z"/>
<path fill="#6c9ed0" d="M10 41h1v1h-1z"/>
<path fill="#70a0d0" d="M11 41h1v1h-1z"/>
<path fill="#90b6dc" d="M13 41h1v1h-1z"/>
<path fill="#a4c4e4" d="M14 41h1v1h-1z"/>
<path fill="#c0d8ec" d="M15 41h1v1h-1zM15 42h1v1h-1zM2 57h1v1h-1z"/>
<path fill="#d8e8f2" d="M16 41h1v1h-1zM6 61h1v1h-1z"/>
<path fill="#dceef6" d="M17 41h1v1h-1z"/>
<path fill="#dcf0f8" d="M18 41h1v1h-1z"/>
<path fill="#d4e8f2" d="M19 41h1v1h-1zM19 42h1v1h-1z"/>
<path fill="#d8ecf4" d="M20 41h1v1h-1zM9 62h1v1h-1z"/>
<path fill="#c8e0ec" d="M21 41h1v1h-1z"/>
<path fill="#c4d8e2" d="M24 41h1v1h-1z"/>
<path fill="#5aa8ea" d="M1 42h1v1h-1z"/>
<path fill="#5aa8ec" d="M2 42h1v1h-1z"/>
<path fill="#56aaec" d="M3 42h1v1h-1z"/>
<path fill="#54a8ec" d="M4 42h1v1h-1z"/>
<path fill="#56a8ee" d="M5 42h1v1h-1z"/>
<path fill="#60a8e8" d="M7 42h1v1h-1z"/>
<path fill="#5ea8e2" d="M8 42h1v1h-1z"/>
<path fill="#64a2d8" d="M9 42h1v1h-1z"/>
<path fill="#6498cc" d="M10 42h1v1h-1z"/>
<path fill="#80acd6" d="M12 42h1v1h-1z"/>
<path fill="#90b8dc" d="M13 42h1v1h-1z"/>
<path fill="#a8c8e6" d="M14 42h1v1h-1zM20 61h1v1h-1z"/>
<path fill="#dcecf2" d="M16 42h1v1h-1z"/>
<path fill="#e0f0f8" d="M17 42h1v1h-1z"/>
<path fill="#dceef8" d="M18 42h1v1h-1zM18 44h1v1h-1zM8 62h1v1h-1z"/>
<path fill="#b8d6ea" d="M21 42h1v1h-1z"/>
<path fill="#accce6" d="M22 42h1v1h-1z"/>
<path fill="#c4d6e2" d="M24 42h1v1h-1zM24 43h1v1h-1z"/>
<path fill="#58a6ea" d="M0 43h1v1h-1zM2 46h1v1h-1zM1 47h1v1h-1z"/>
<path fill="#56a6ea" d="M1 43h1v1h-1zM0 44h1v1h-1z"/>
<path fill="#58a8ec" d="M2 43h1v1h-1zM1 44h1v1h-1zM0 48h1v1h-1zM0 49h1v1h-1z"/>
<path fill="#54acf0" d="M3 43h1v1h-1z"/>
<path fill="#52aef2" d="M4 43h1v1h-1z"/>
<path fill="#58aaee" d="M5 43h1v1h-1zM2 45h1v1h-1z"/>
<path fill="#56a4ee" d="M6 43h1v1h-1z"/>
<path fill="#5ca6e8" d="M7 43h1v1h-1z"/>
<path fill="#5ca6e2" d="M8 43h1v1h-1zM10 49h1v1h-1zM7 51h1v1h-1z"/>
<path fill="#62a0d0" d="M11 43h1v1h-1z"/>
<path fill="#7cb0d6" d="M12 43h1v1h-1zM12 44h1v1h-1z"/>
<path fill="#88b8dc" d="M13 43h1v1h-1zM13 45h1v1h-1z"/>
<path fill="#a0c0e8" d="M14 43h1v1h-1zM14 44h1v1h-1z"/>
<path fill="#bcd4ec" d="M15 43h1v1h-1z"/>
<path fill="#dce8f4" d="M17 43h1v1h-1zM2 60h1v1h-1z"/>
<path fill="#e0e8f6" d="M18 43h1v1h-1z"/>
<path fill="#d0e0ee" d="M19 43h1v1h-1z"/>
<path fill="#c0d4e4" d="M23 43h1v1h-1zM24 59h1v1h-1z"/>
<path fill="#5aaaee" d="M2 44h1v1h-1z"/>
<path fill="#58acf0" d="M3 44h1v1h-1z"/>
<path fill="#56aeee" d="M4 44h1v1h-1z"/>
<path fill="#70b8ee" d="M5 44h1v1h-1z"/>
<path fill="#5ca8ec" d="M6 44h1v1h-1z"/>
<path fill="#68acea" d="M7 44h1v1h-1z"/>
<path fill="#5ea6e6" d="M8 44h1v1h-1z"/>
<path fill="#5e9cd2" d="M11 44h1v1h-1z"/>
<path fill="#90bcdc" d="M13 44h1v1h-1z"/>
<path fill="#c8e8ee" d="M16 44h1v1h-1z"/>
<path fill="#d8eef4" d="M17 44h1v1h-1z"/>
<path fill="#b8d8ea" d="M20 44h1v1h-1z"/>
<path fill="#ccdce4" d="M24 44h1v1h-1z"/>
<path fill="#64b0ec" d="M0 45h1v1h-1z"/>
<path fill="#5caaec" d="M1 45h1v1h-1z"/>
<path fill="#58a8ee" d="M3 45h1v1h-1z"/>
<path fill="#54aaec" d="M4 45h1v1h-1z"/>
<path fill="#56aaea" d="M5 45h1v1h-1z"/>
<path fill="#58a8ea" d="M6 45h1v1h-1zM0 46h2v1h-2zM0 47h1v1h-1z"/>
<path fill="#60aaec" d="M7 45h1v1h-1z"/>
<path fill="#5ca4ec" d="M8 45h1v1h-1z"/>
<path fill="#60a2e2" d="M9 45h1v1h-1z"/>
<path fill="#5c9cdc" d="M10 45h1v1h-1zM6 48h1v1h-1z"/>
<path fill="#68a4d6" d="M11 45h1v1h-1z"/>
<path fill="#5c9ed2" d="M12 45h1v1h-1z"/>
<path fill="#94bce0" d="M14 45h1v1h-1zM16 50h1v1h-1zM16 51h1v1h-1zM14 56h1v1h-1zM15 59h1v1h-1z"/>
<path fill="#c0e4ec" d="M16 45h1v1h-1z"/>
<path fill="#d8f0f0" d="M17 45h1v1h-1z"/>
<path fill="#dceaf4" d="M18 45h1v1h-1z"/>
<path fill="#b0d0ea" d="M19 45h1v1h-1z"/>
<path fill="#a4c8ea" d="M20 45h1v1h-1z"/>
<path fill="#c8dae6" d="M22 45h1v1h-1z"/>
<path fill="#c8dae4" d="M24 45h1v1h-1z"/>
<path fill="#58a8e8" d="M3 46h1v1h-1z"/>
<path fill="#5aa4e4" d="M4 46h1v1h-1z"/>
<path fill="#56a4e4" d="M5 46h1v1h-1z"/>
<path fill="#5aa6e6" d="M6 46h1v1h-1zM2 48h1v1h-1z"/>
<path fill="#5ca8ea" d="M7 46h1v1h-1zM7 47h1v1h-1z"/>
<path fill="#68b2f0" d="M8 46h1v1h-1z"/>
<path fill="#68ace6" d="M9 46h1v1h-1z"/>
<path fill="#5ea0de" d="M10 46h1v1h-1zM3 52h1v1h-1z"/>
<path fill="#64a0d8" d="M11 46h1v1h-1zM12 49h1v1h-1z"/>
<path fill="#80b0da" d="M13 46h1v1h-1z"/>
<path fill="#88b8de" d="M14 46h1v1h-1zM14 47h1v1h-1zM13 55h1v1h-1z"/>
<path fill="#a8cee2" d="M15 46h1v1h-1z"/>
<path fill="#c0e6ec" d="M16 46h1v1h-1z"/>
<path fill="#d0ecf0" d="M17 46h1v1h-1zM17 47h1v1h-1z"/>
<path fill="#d4e4f0" d="M18 46h1v1h-1z"/>
<path fill="#a0c8e4" d="M20 46h1v1h-1z"/>
<path fill="#58a4e4" d="M2 47h1v1h-1z"/>
<path fill="#5ca2e0" d="M3 47h1v1h-1zM10 47h1v1h-1zM4 49h1v1h-1zM6 52h1v1h-1z"/>
<path fill="#62a6e4" d="M6 47h1v1h-1z"/>
<path fill="#56aef2" d="M8 47h1v1h-1z"/>
<path fill="#64ace8" d="M9 47h1v1h-1zM9 49h1v1h-1z"/>
<path fill="#5c9cd8" d="M11 47h1v1h-1z"/>
<path fill="#6c9cd2" d="M12 47h1v1h-1z"/>
<path fill="#7cacd8" d="M13 47h1v1h-1z"/>
<path fill="#c4e8ec" d="M16 47h1v1h-1z"/>
<path fill="#c4d4f0" d="M18 47h1v1h-1z"/>
<path fill="#b4cce8" d="M19 47h1v1h-1z"/>
<path fill="#c8d8e8" d="M23 47h1v1h-1z"/>
<path fill="#58a6e8" d="M1 48h1v1h-1zM1 49h1v1h-1z"/>
<path fill="#5aa2e2" d="M3 48h1v1h-1zM4 50h1v1h-1z"/>
<path fill="#62a6e2" d="M4 48h1v1h-1z"/>
<path fill="#60a4e2" d="M5 48h1v1h-1zM9 53h1v1h-1z"/>
<path fill="#68b0e8" d="M7 48h1v1h-1z"/>
<path fill="#56aef0" d="M8 48h1v1h-1z"/>
<path fill="#66b0ea" d="M9 48h1v1h-1z"/>
<path fill="#5ea0da" d="M11 48h1v1h-1z"/>
<path fill="#669ed6" d="M12 48h1v1h-1z"/>
<path fill="#70a4d6" d="M13 48h1v1h-1z"/>
<path fill="#8cbade" d="M14 48h1v1h-1z"/>
<path fill="#b8dce8" d="M16 48h1v1h-1zM5 59h3v1h-3zM11 61h1v1h-1z"/>
<path fill="#b4d4e8" d="M17 48h1v1h-1z"/>
<path fill="#b0c8ec" d="M18 48h1v1h-1z"/>
<path fill="#c0d8e6" d="M21 48h1v1h-1zM20 52h2v1h-2z"/>
<path fill="#62acea" d="M2 49h1v1h-1z"/>
<path fill="#66aee8" d="M3 49h1v1h-1z"/>
<path fill="#5ca0e0" d="M5 49h1v1h-1zM1 51h2v1h-2z"/>
<path fill="#68aee8" d="M7 49h1v1h-1z"/>
<path fill="#58acec" d="M8 49h1v1h-1z"/>
<path fill="#5ca2de" d="M11 49h1v1h-1z"/>
<path fill="#6ca4d8" d="M13 49h1v1h-1zM14 50h1v1h-1z"/>
<path fill="#9cc4e4" d="M16 49h1v1h-1z"/>
<path fill="#9cc0e4" d="M17 49h1v1h-1z"/>
<path fill="#a4bcea" d="M18 49h1v1h-1z"/>
<path fill="#c0d4e8" d="M19 49h1v1h-1zM24 49h1v1h-1zM23 50h1v1h-1z"/>
<path fill="#64aae6" d="M3 50h1v1h-1z"/>
<path fill="#5ea6e4" d="M7 50h1v1h-1z"/>
<path fill="#5cace8" d="M8 50h1v1h-1z"/>
<path fill="#5caee8" d="M9 50h1v1h-1z"/>
<path fill="#58a8e4" d="M10 50h1v1h-1z"/>
<path fill="#6cb0e2" d="M11 50h1v1h-1z"/>
<path fill="#68a4da" d="M12 50h1v1h-1z"/>
<path fill="#70a8da" d="M13 50h1v1h-1z"/>
<path fill="#a0c0e4" d="M17 50h1v1h-1z"/>
<path fill="#b4c8e6" d="M18 50h1v1h-1z"/>
<path fill="#c0d4e6" d="M19 50h1v1h-1z"/>
<path fill="#c8dae8" d="M22 50h1v1h-1z"/>
<path fill="#5a9ede" d="M3 51h1v1h-1z"/>
<path fill="#56aae4" d="M8 51h1v1h-1z"/>
<path fill="#60aee6" d="M9 51h1v1h-1z"/>
<path fill="#64b0e6" d="M10 51h1v1h-1z"/>
<path fill="#74b6e2" d="M11 51h1v1h-1z"/>
<path fill="#6caee0" d="M12 51h1v1h-1z"/>
<path fill="#64a4da" d="M14 51h1v1h-1zM7 55h1v1h-1z"/>
<path fill="#80b0dc" d="M15 51h1v1h-1zM15 57h1v1h-1z"/>
<path fill="#a4c0e4" d="M17 51h1v1h-1z"/>
<path fill="#c4d4ea" d="M22 51h1v1h-1z"/>
<path fill="#c0d0e8" d="M23 51h1v1h-1z"/>
<path fill="#b8c8e8" d="M24 51h1v1h-1z"/>
<path fill="#68a8dc" d="M0 52h2v1h-2zM13 52h1v1h-1z"/>
<path fill="#68a6de" d="M4 52h1v1h-1z"/>
<path fill="#68aee4" d="M7 52h1v1h-1z"/>
<path fill="#70b4e6" d="M8 52h1v1h-1z"/>
<path fill="#68b0e4" d="M9 52h1v1h-1z"/>
<path fill="#68b0e2" d="M10 52h1v1h-1z"/>
<path fill="#64a8e0" d="M11 52h1v1h-1z"/>
<path fill="#64a6de" d="M12 52h1v1h-1z"/>
<path fill="#70acdc" d="M14 52h1v1h-1zM13 54h1v1h-1zM5 55h2v1h-2z"/>
<path fill="#7cb0dc" d="M15 52h1v1h-1z"/>
<path fill="#90b8e0" d="M16 52h1v1h-1z"/>
<path fill="#a0bce4" d="M17 52h1v1h-1z"/>
<path fill="#a4bee4" d="M18 52h1v1h-1z"/>
<path fill="#b8d0e6" d="M19 52h1v1h-1zM23 52h1v1h-1z"/>
<path fill="#80b8dc" d="M0 53h1v1h-1z"/>
<path fill="#74b0dc" d="M1 53h1v1h-1z"/>
<path fill="#78b0dc" d="M2 53h1v1h-1zM2 54h1v1h-1z"/>
<path fill="#60a0dc" d="M3 53h1v1h-1z"/>
<path fill="#62a0dc" d="M4 53h1v1h-1z"/>
<path fill="#74b4e0" d="M6 53h1v1h-1zM9 58h1v1h-1z"/>
<path fill="#68ace2" d="M7 53h1v1h-1z"/>
<path fill="#64a8e2" d="M8 53h1v1h-1z"/>
<path fill="#6cace2" d="M10 53h1v1h-1z"/>
<path fill="#64a4de" d="M11 53h1v1h-1z"/>
<path fill="#64a4dc" d="M12 53h1v1h-1zM3 54h2v1h-2z"/>
<path fill="#6ca8dc" d="M13 53h1v1h-1zM11 54h2v1h-2z"/>
<path fill="#78b0de" d="M14 53h1v1h-1z"/>
<path fill="#88b6de" d="M15 53h1v1h-1z"/>
<path fill="#98b8e4" d="M16 53h1v1h-1z"/>
<path fill="#98b4e2" d="M17 53h1v1h-1z"/>
<path fill="#a8c4e2" d="M18 53h1v1h-1zM18 54h1v1h-1zM18 55h2v1h-2z"/>
<path fill="#b4d0e2" d="M22 53h1v1h-1z"/>
<path fill="#c0d8e4" d="M23 53h1v1h-1z"/>
<path fill="#a4d0e6" d="M0 54h1v1h-1z"/>
<path fill="#84b8de" d="M1 54h1v1h-1z"/>
<path fill="#5ea2dc" d="M5 54h1v1h-1z"/>
<path fill="#68ace0" d="M6 54h1v1h-1z"/>
<path fill="#5ea4e2" d="M9 54h1v1h-1z"/>
<path fill="#68a8de" d="M10 54h1v1h-1z"/>
<path fill="#84b4de" d="M14 54h1v1h-1zM3 55h1v1h-1z"/>
<path fill="#98bce2" d="M15 54h1v1h-1zM15 61h1v1h-1z"/>
<path fill="#a0b8e4" d="M16 54h1v1h-1z"/>
<path fill="#b0d0e0" d="M23 54h1v1h-1zM23 55h1v1h-1z"/>
<path fill="#b4d4e0" d="M24 54h1v1h-1z"/>
<path fill="#bce0f0" d="M0 55h1v1h-1z"/>
<path fill="#98c4e4" d="M1 55h1v1h-1zM13 63h1v1h-1z"/>
<path fill="#88b8e0" d="M2 55h1v1h-1zM13 57h1v1h-1zM13 58h1v1h-1z"/>
<path fill="#7cb4de" d="M4 55h1v1h-1z"/>
<path fill="#60a0d8" d="M8 55h1v1h-1z"/>
<path fill="#64a2da" d="M9 55h1v1h-1z"/>
<path fill="#6ca8da" d="M10 55h1v1h-1z"/>
<path fill="#80b8de" d="M11 55h1v1h-1z"/>
<path fill="#80b4dc" d="M12 55h1v1h-1z"/>
<path fill="#a8bee0" d="M16 55h1v1h-1z"/>
<path fill="#a4c8de" d="M24 55h1v1h-1z"/>
<path fill="#bce0ea" d="M0 56h1v1h-1zM0 57h1v1h-1zM0 58h1v1h-1z"/>
<path fill="#a4cce8" d="M1 56h1v1h-1z"/>
<path fill="#90bce4" d="M2 56h1v1h-1z"/>
<path fill="#90c0e4" d="M3 56h1v1h-1z"/>
<path fill="#90c4e4" d="M4 56h1v1h-1z"/>
<path fill="#84bae0" d="M5 56h1v1h-1z"/>
<path fill="#74b0de" d="M6 56h1v1h-1z"/>
<path fill="#6cacde" d="M7 56h1v1h-1z"/>
<path fill="#64acde" d="M8 56h1v1h-1z"/>
<path fill="#68b0de" d="M9 56h1v1h-1z"/>
<path fill="#6cb2e0" d="M10 56h1v1h-1z"/>
<path fill="#78b6e0" d="M11 56h1v1h-1z"/>
<path fill="#84b8e0" d="M12 56h1v1h-1z"/>
<path fill="#90bce0" d="M13 56h1v1h-1z"/>
<path fill="#9cbcde" d="M16 56h1v1h-1z"/>
<path fill="#94b8e0" d="M17 56h1v1h-1z"/>
<path fill="#a8cce4" d="M18 56h1v1h-1zM22 61h1v1h-1z"/>
<path fill="#b8d4e4" d="M19 56h1v1h-1zM21 57h1v1h-1z"/>
<path fill="#bcd2e4" d="M20 56h1v1h-1z"/>
<path fill="#b0d4ea" d="M1 57h1v1h-1z"/>
<path fill="#b0d4e8" d="M3 57h1v1h-1z"/>
<path fill="#b0d6e8" d="M4 57h1v1h-1z"/>
<path fill="#98c8e4" d="M5 57h1v1h-1z"/>
<path fill="#80b4e0" d="M6 57h1v1h-1z"/>
<path fill="#78b2e0" d="M7 57h1v1h-1z"/>
<path fill="#70b0e0" d="M8 57h1v1h-1z"/>
<path fill="#6cb6e2" d="M9 57h1v1h-1z"/>
<path fill="#70c0e4" d="M10 57h1v1h-1z"/>
<path fill="#7cbce2" d="M11 57h1v1h-1z"/>
<path fill="#80b8e0" d="M12 57h1v1h-1zM12 58h1v1h-1zM11 60h1v1h-1z"/>
<path fill="#90b8de" d="M14 57h1v1h-1z"/>
<path fill="#b8d8e4" d="M18 57h1v1h-1zM18 60h1v1h-1zM23 60h1v1h-1zM16 61h1v1h-1zM16 62h1v1h-1z"/>
<path fill="#bcd4e4" d="M19 57h1v1h-1z"/>
<path fill="#c0d0e4" d="M20 57h1v1h-1z"/>
<path fill="#b0d4e2" d="M24 57h1v1h-1z"/>
<path fill="#b4d8ea" d="M1 58h1v1h-1z"/>
<path fill="#a8cce8" d="M2 58h1v1h-1z"/>
<path fill="#b0d6ea" d="M3 58h1v1h-1z"/>
<path fill="#b4daea" d="M4 58h1v1h-1z"/>
<path fill="#98c8e6" d="M5 58h1v1h-1z"/>
<path fill="#94c4e4" d="M6 58h1v1h-1z"/>
<path fill="#84b8e2" d="M7 58h1v1h-1zM9 60h1v1h-1z"/>
<path fill="#78b4e0" d="M8 58h1v1h-1z"/>
<path fill="#78b8e0" d="M10 58h1v1h-1z"/>
<path fill="#7cb8e0" d="M11 58h1v1h-1zM9 59h1v1h-1z"/>
<path fill="#a0c4e0" d="M17 58h1v1h-1z"/>
<path fill="#b8d8e6" d="M19 58h1v1h-1zM22 58h1v1h-1zM18 59h2v1h-2zM19 60h1v1h-1z"/>
<path fill="#b8d6e4" d="M23 58h1v1h-1z"/>
<path fill="#bcdce8" d="M0 59h1v1h-1z"/>
<path fill="#bcd8ea" d="M2 59h1v1h-1z"/>
<path fill="#b4d8e8" d="M3 59h1v1h-1z"/>
<path fill="#b4dae8" d="M4 59h1v1h-1z"/>
<path fill="#8cbce2" d="M8 59h1v1h-1z"/>
<path fill="#74ace0" d="M10 59h1v1h-1z"/>
<path fill="#80b8e2" d="M11 59h1v1h-1z"/>
<path fill="#98cce4" d="M12 59h1v1h-1z"/>
<path fill="#a0cce4" d="M13 59h1v1h-1z"/>
<path fill="#8cb8e0" d="M14 59h1v1h-1z"/>
<path fill="#94c0e0" d="M16 59h1v1h-1z"/>
<path fill="#b0d0ec" d="M20 59h1v1h-1z"/>
<path fill="#b4d4ea" d="M21 59h1v1h-1z"/>
<path fill="#d0e8f0" d="M0 60h1v1h-1z"/>
<path fill="#d4e8f0" d="M1 60h1v1h-1z"/>
<path fill="#cce0f0" d="M3 60h1v1h-1z"/>
<path fill="#cce4ee" d="M4 60h1v1h-1z"/>
<path fill="#c4dcec" d="M5 60h3v1h-3z"/>
<path fill="#b8d4ec" d="M8 60h1v1h-1z"/>
<path fill="#7cb4e0" d="M10 60h1v1h-1z"/>
<path fill="#98cce2" d="M12 60h1v1h-1z"/>
<path fill="#9cc8e4" d="M13 60h1v1h-1z"/>
<path fill="#88b0e2" d="M14 60h1v1h-1z"/>
<path fill="#98c0e2" d="M15 60h1v1h-1z"/>
<path fill="#bcdae4" d="M17 60h1v1h-1z"/>
<path fill="#accce8" d="M20 60h1v1h-1z"/>
<path fill="#f0f8f8" d="M0 61h1v1h-1zM1 62h1v1h-1z"/>
<path fill="#e8f0f8" d="M1 61h1v1h-1z"/>
<path fill="#e0e8f8" d="M2 61h1v1h-1z"/>
<path fill="#e4f0f8" d="M3 61h1v1h-1zM5 62h2v1h-2z"/>
<path fill="#cce0f4" d="M7 61h1v1h-1z"/>
<path fill="#d0e4f4" d="M8 61h1v1h-1z"/>
<path fill="#b8d8f0" d="M9 61h1v1h-1z"/>
<path fill="#98c4e6" d="M10 61h1v1h-1z"/>
<path fill="#c8e4e8" d="M12 61h1v1h-1z"/>
<path fill="#a8cce6" d="M13 61h1v1h-1z"/>
<path fill="#7ca8e2" d="M14 61h1v1h-1z"/>
<path fill="#b8d6e6" d="M17 61h1v1h-1z"/>
<path fill="#accce4" d="M19 61h1v1h-1zM22 62h1v1h-1zM18 63h1v1h-1z"/>
<path fill="#a8c8e4" d="M21 61h1v1h-1zM19 62h1v1h-1z"/>
<path fill="#fcfefe" d="M0 62h1v1h-1zM1 63h1v1h-1z"/>
<path fill="#f0f8fa" d="M2 62h2v1h-2z"/>
<path fill="#ecf6f8" d="M4 62h1v1h-1z"/>
<path fill="#e4f2f8" d="M7 62h1v1h-1z"/>
<path fill="#d8ecf0" d="M10 62h1v1h-1z"/>
<path fill="#cce6ea" d="M12 62h1v1h-1z"/>
<path fill="#94c0e4" d="M13 62h1v1h-1z"/>
<path fill="#88b4e2" d="M14 62h1v1h-1z"/>
<path fill="#94bce2" d="M15 62h1v1h-1z"/>
<path fill="#ffffff" d="M0 63h1v1h-1z"/>
<path fill="#f4fafc" d="M2 63h1v1h-1z"/>
<path fill="#f8fcfc" d="M3 63h1v1h-1z"/>
<path fill="#f8fcfe" d="M4 63h1v1h-1z"/>
<path fill="#f4fafe" d="M5 63h1v1h-1z"/>
<path fill="#f0f8fc" d="M6 63h4v1h-4z"/>
<path fill="#ecf6fa" d="M10 63h1v1h-1z"/>
<path fill="#c4e0ee" d="M11 63h1v1h-1z"/>
<path fill="#98c4e2" d="M14 63h1v1h-1z"/>
<path fill="#a4c8e0" d="M20 63h1v1h-1zM23 63h2v1h-2z"/>
</svg>
<svg class="p" style="left:873px" width="475" height="1215" viewBox="0 0 25 64" preserveAspectRatio="none" shape-rendering="crispEdges">
<path fill="#ae6095" d="M0 0h1v1h-1zM16 28h1v1h-1zM16 47h1v1h-1z"/>
<path fill="#ab5e93" d="M1 0h1v1h-1zM7 0h2v1h-2zM17 24h1v1h-1zM19 25h1v1h-1zM20 26h1v1h-1zM15 28h1v1h-1zM18 28h1v1h-1zM20 32h1v1h-1zM23 43h1v1h-1zM23 46h1v1h-1zM17 48h1v1h-1zM24 48h1v1h-1zM5 61h1v1h-1zM8 61h1v1h-1z"/>
<path fill="#55249a" d="M2 0h1v1h-1zM1 1h2v1h-2zM1 2h3v1h-3zM0 3h4v1h-4zM5 3h7v1h-7zM3 4h10v1h-10zM7 5h6v1h-6zM0 16h4v1h-4zM0 17h4v1h-4zM0 18h12v1h-12zM0 19h12v1h-12zM0 20h12v1h-12zM0 21h12v1h-12zM0 22h12v1h-12zM0 23h12v1h-12zM0 24h12v1h-12zM0 25h12v1h-12zM0 26h12v1h-12zM0 27h12v1h-12zM0 28h12v1h-12zM0 29h13v1h-13zM0 30h14v1h-14zM0 31h14v1h-14zM0 32h13v1h-13zM0 33h14v1h-14zM0 34h14v1h-14zM0 35h15v1h-15zM0 36h15v1h-15zM0 37h15v1h-15zM0 38h14v1h-14zM0 39h14v1h-14zM0 40h14v1h-14zM0 41h13v1h-13zM0 42h13v1h-13zM0 43h13v1h-13zM0 44h13v1h-13zM0 45h14v1h-14zM0 46h15v1h-15zM0 47h15v1h-15zM0 48h15v1h-15zM0 49h16v1h-16zM0 50h16v1h-16zM0 51h16v1h-16zM0 52h16v1h-16zM0 53h16v1h-16zM1 54h13v1h-13zM2 55h11v1h-11zM5 56h8v1h-8zM6 57h7v1h-7zM8 58h5v1h-5zM9 59h4v1h-4zM10 60h2v1h-2z"/>
<path fill="#99518d" d="M3 0h1v1h-1zM16 0h1v1h-1zM3 1h1v1h-1zM5 2h1v1h-1zM17 4h1v1h-1zM24 4h1v1h-1zM24 5h1v1h-1zM17 6h1v1h-1zM24 7h1v1h-1zM12 21h1v1h-1zM23 22h1v1h-1zM15 32h1v1h-1zM16 36h1v1h-1zM16 49h1v1h-1zM14 54h1v1h-1zM17 54h1v1h-1zM15 55h2v1h-2zM4 56h1v1h-1z"/>
<path fill="#a0568f" d="M4 0h1v1h-1zM16 2h1v1h-1zM19 3h1v1h-1zM18 4h1v1h-1zM20 4h1v1h-1zM23 28h1v1h-1zM17 33h1v1h-1zM19 53h1v1h-1zM23 55h1v1h-1zM1 56h1v1h-1zM22 56h1v1h-1zM24 56h1v1h-1zM2 57h1v1h-1zM18 58h1v1h-1zM10 61h1v1h-1zM16 61h1v1h-1zM18 61h1v1h-1zM16 62h1v1h-1zM16 63h1v1h-1z"/>
<path fill="#a55991" d="M5 0h1v1h-1zM0 2h1v1h-1zM21 23h1v1h-1zM14 26h1v1h-1zM19 30h1v1h-1zM15 42h1v1h-1zM21 43h1v1h-1zM21 45h1v1h-1zM20 49h1v1h-1zM2 59h1v1h-1zM21 59h1v1h-1zM12 61h1v1h-1z"/>
<path fill="#aa5c93" d="M6 0h1v1h-1zM19 24h1v1h-1zM20 25h1v1h-1zM19 28h1v1h-1zM23 31h1v1h-1zM23 47h1v1h-1zM0 54h1v1h-1z"/>
<path fill="#ab5d93" d="M9 0h2v1h-2zM20 27h1v1h-1zM24 31h1v1h-1zM19 33h1v1h-1zM24 34h1v1h-1zM24 35h1v1h-1zM23 41h2v1h-2zM23 42h1v1h-1zM2 60h1v1h-1z"/>
<path fill="#aa5d93" d="M11 0h1v1h-1zM21 42h1v1h-1zM16 43h1v1h-1zM15 47h1v1h-1zM24 49h1v1h-1zM12 62h1v1h-1z"/>
<path fill="#a85c92" d="M12 0h1v1h-1zM3 60h1v1h-1z"/>
<path fill="#a35890" d="M13 0h1v1h-1zM11 1h3v1h-3zM14 3h1v1h-1zM16 21h2v1h-2zM14 22h1v1h-1zM19 22h1v1h-1zM15 24h1v1h-1zM22 24h1v1h-1zM22 28h1v1h-1zM23 29h1v1h-1zM18 30h1v1h-1zM15 44h1v1h-1zM19 49h1v1h-1zM22 54h2v1h-2zM1 57h1v1h-1zM20 58h3v1h-3zM4 59h1v1h-1zM8 60h1v1h-1z"/>
<path fill="#a15690" d="M14 0h1v1h-1zM19 5h1v1h-1zM19 20h1v1h-1zM13 21h1v1h-1zM19 21h1v1h-1zM21 22h1v1h-1zM14 23h1v1h-1zM22 23h1v1h-1zM23 25h1v1h-1zM24 26h1v1h-1zM24 27h1v1h-1zM17 35h1v1h-1zM19 52h1v1h-1zM20 54h1v1h-1zM20 55h1v1h-1zM22 55h1v1h-1zM19 56h1v1h-1zM22 57h2v1h-2zM4 58h1v1h-1zM7 59h1v1h-1zM18 59h1v1h-1zM17 60h1v1h-1zM23 60h2v1h-2z"/>
<path fill="#9d538e" d="M15 0h1v1h-1z"/>
<path fill="#98508d" d="M17 0h1v1h-1zM19 1h1v1h-1zM6 2h1v1h-1zM22 2h1v1h-1zM4 3h1v1h-1zM22 5h1v1h-1zM21 6h1v1h-1zM24 6h1v1h-1zM13 23h1v1h-1zM13 28h1v1h-1zM13 29h1v1h-1zM15 31h1v1h-1zM15 33h1v1h-1zM14 34h2v1h-2zM14 40h1v1h-1zM17 50h1v1h-1zM16 54h1v1h-1zM14 55h1v1h-1zM13 62h1v1h-1z"/>
<path fill="#97508c" d="M18 0h1v1h-1zM20 1h1v1h-1zM9 2h1v1h-1zM22 4h2v1h-2zM23 5h1v1h-1zM16 6h1v1h-1zM23 8h1v1h-1zM12 20h1v1h-1zM22 21h1v1h-1zM12 22h1v1h-1zM13 26h1v1h-1zM15 30h1v1h-1zM14 32h1v1h-1zM14 33h1v1h-1zM15 37h1v1h-1zM14 39h1v1h-1zM17 52h1v1h-1zM17 53h1v1h-1zM16 56h1v1h-1zM15 62h1v1h-1zM14 63h1v1h-1z"/>
<path fill="#964f8c" d="M19 0h2v1h-2zM21 1h1v1h-1zM22 3h3v1h-3zM16 4h1v1h-1zM23 6h1v1h-1zM21 7h1v1h-1zM23 7h1v1h-1zM13 19h1v1h-1zM13 24h1v1h-1zM13 25h1v1h-1zM14 31h1v1h-1zM13 32h1v1h-1zM15 35h1v1h-1zM13 44h1v1h-1zM16 50h1v1h-1zM16 53h1v1h-1zM15 56h1v1h-1zM16 57h1v1h-1zM16 58h1v1h-1zM15 60h1v1h-1zM15 61h1v1h-1z"/>
<path fill="#954e8c" d="M21 0h1v1h-1zM11 2h1v1h-1zM16 5h1v1h-1zM14 29h1v1h-1zM15 36h1v1h-1zM14 38h1v1h-1zM16 52h1v1h-1zM13 56h2v1h-2zM13 59h1v1h-1zM15 59h1v1h-1z"/>
<path fill="#914c8a" d="M22 0h1v1h-1zM24 2h1v1h-1zM13 57h3v1h-3zM13 58h2v1h-2z"/>
<path fill="#8f4a8a" d="M23 0h1v1h-1z"/>
<path fill="#8e4a89" d="M24 0h1v1h-1zM23 1h1v1h-1z"/>
<path fill="#ac5e94" d="M0 1h1v1h-1zM18 24h1v1h-1zM17 25h1v1h-1zM16 26h1v1h-1zM15 27h1v1h-1zM19 27h1v1h-1zM22 32h2v1h-2zM24 33h1v1h-1zM23 34h1v1h-1zM23 35h1v1h-1zM24 36h1v1h-1zM20 43h1v1h-1zM16 44h1v1h-1zM23 45h1v1h-1zM16 48h1v1h-1zM1 60h1v1h-1zM4 61h1v1h-1zM6 61h1v1h-1z"/>
<path fill="#9e558f" d="M4 1h1v1h-1zM16 60h1v1h-1z"/>
<path fill="#9d548f" d="M5 1h1v1h-1z"/>
<path fill="#9d548e" d="M6 1h1v1h-1zM12 2h1v1h-1zM18 2h1v1h-1zM13 3h1v1h-1zM15 4h1v1h-1zM14 6h1v1h-1zM19 6h1v1h-1zM20 20h1v1h-1zM22 22h1v1h-1zM14 24h1v1h-1zM23 24h1v1h-1zM14 25h1v1h-1zM18 55h1v1h-1zM5 57h1v1h-1zM17 59h1v1h-1zM22 61h3v1h-3z"/>
<path fill="#a75a92" d="M7 1h1v1h-1zM16 22h1v1h-1zM20 23h1v1h-1zM21 24h1v1h-1zM14 27h1v1h-1zM20 30h1v1h-1zM21 48h1v1h-1zM21 49h1v1h-1zM23 53h2v1h-2zM1 55h1v1h-1zM0 56h1v1h-1zM0 58h1v1h-1zM1 59h1v1h-1zM7 60h1v1h-1z"/>
<path fill="#a85b92" d="M8 1h1v1h-1zM16 23h1v1h-1zM16 24h1v1h-1zM20 24h1v1h-1zM21 25h1v1h-1zM21 27h1v1h-1zM17 29h1v1h-1zM20 29h2v1h-2zM21 30h2v1h-2zM20 31h1v1h-1zM18 35h1v1h-1zM16 39h1v1h-1zM18 47h1v1h-1zM22 47h1v1h-1zM22 48h1v1h-1zM22 49h1v1h-1zM21 50h3v1h-3zM21 51h4v1h-4zM22 52h3v1h-3zM0 59h1v1h-1z"/>
<path fill="#a75b92" d="M9 1h1v1h-1zM19 23h1v1h-1zM21 28h1v1h-1zM16 29h1v1h-1zM18 29h2v1h-2zM23 30h2v1h-2zM19 32h1v1h-1zM18 34h1v1h-1zM17 37h1v1h-1zM22 44h1v1h-1zM15 45h1v1h-1zM4 60h3v1h-3z"/>
<path fill="#a35891" d="M10 1h1v1h-1zM18 48h1v1h-1z"/>
<path fill="#a15790" d="M14 1h1v1h-1zM15 2h1v1h-1zM23 27h1v1h-1zM18 31h1v1h-1zM17 34h1v1h-1zM15 41h1v1h-1zM14 45h1v1h-1zM21 56h1v1h-1zM18 60h2v1h-2zM17 62h1v1h-1z"/>
<path fill="#9e548f" d="M15 1h1v1h-1zM17 3h1v1h-1zM20 3h1v1h-1zM24 25h1v1h-1zM16 30h1v1h-1zM17 31h1v1h-1zM17 32h1v1h-1zM18 56h1v1h-1zM3 57h2v1h-2zM6 58h2v1h-2zM12 60h1v1h-1zM19 61h1v1h-1z"/>
<path fill="#9c538e" d="M16 1h2v1h-2zM19 2h1v1h-1zM21 4h1v1h-1zM14 5h1v1h-1zM21 5h1v1h-1zM18 6h1v1h-1zM20 6h1v1h-1zM18 7h2v1h-2zM21 21h1v1h-1zM16 32h1v1h-1zM16 37h1v1h-1zM15 39h1v1h-1zM15 40h1v1h-1zM17 49h1v1h-1zM18 50h1v1h-1zM18 51h1v1h-1zM18 52h1v1h-1zM18 53h1v1h-1zM18 54h1v1h-1zM20 61h2v1h-2zM19 62h1v1h-1zM23 62h2v1h-2zM19 63h1v1h-1zM22 63h3v1h-3z"/>
<path fill="#9a528d" d="M18 1h1v1h-1zM4 2h1v1h-1zM21 2h1v1h-1zM17 7h1v1h-1zM24 8h1v1h-1zM21 20h1v1h-1zM16 34h1v1h-1zM16 35h1v1h-1zM14 44h1v1h-1zM2 56h1v1h-1zM17 56h1v1h-1zM17 57h1v1h-1zM17 58h1v1h-1zM13 60h1v1h-1zM20 62h2v1h-2z"/>
<path fill="#924d8b" d="M22 1h1v1h-1z"/>
<path fill="#8d4a89" d="M24 1h1v1h-1z"/>
<path fill="#98518d" d="M7 2h2v1h-2zM12 3h1v1h-1zM13 4h1v1h-1zM24 24h1v1h-1zM14 41h1v1h-1zM15 54h1v1h-1zM3 56h1v1h-1zM16 59h1v1h-1z"/>
<path fill="#944d8b" d="M10 2h1v1h-1zM14 30h1v1h-1z"/>
<path fill="#a35790" d="M13 2h2v1h-2zM23 26h1v1h-1zM15 43h1v1h-1zM19 48h1v1h-1zM24 54h1v1h-1zM19 59h1v1h-1zM23 59h1v1h-1z"/>
<path fill="#9f558f" d="M17 2h1v1h-1zM16 3h1v1h-1zM14 4h1v1h-1zM18 5h1v1h-1zM20 5h1v1h-1zM13 20h1v1h-1zM20 21h1v1h-1zM13 22h1v1h-1zM13 27h1v1h-1zM24 28h1v1h-1zM17 36h1v1h-1zM19 45h2v1h-2zM19 46h2v1h-2zM18 49h1v1h-1zM19 54h1v1h-1zM19 55h1v1h-1zM23 56h1v1h-1zM18 57h1v1h-1zM5 58h1v1h-1zM8 59h1v1h-1zM9 60h1v1h-1zM13 61h1v1h-1zM18 62h1v1h-1zM18 63h1v1h-1z"/>
<path fill="#9b528e" d="M20 2h1v1h-1zM21 3h1v1h-1zM15 5h1v1h-1zM20 7h1v1h-1zM23 23h1v1h-1zM15 38h1v1h-1zM14 42h1v1h-1zM14 43h1v1h-1zM17 55h1v1h-1zM13 63h1v1h-1zM15 63h1v1h-1zM20 63h2v1h-2z"/>
<path fill="#944e8b" d="M23 2h1v1h-1zM13 5h1v1h-1zM22 6h1v1h-1zM13 18h1v1h-1zM24 23h1v1h-1zM13 42h1v1h-1zM13 43h1v1h-1zM16 51h1v1h-1z"/>
<path fill="#a25790" d="M15 3h1v1h-1zM19 4h1v1h-1zM14 20h5v1h-5zM18 21h1v1h-1zM20 22h1v1h-1zM14 28h1v1h-1zM15 29h1v1h-1zM24 29h1v1h-1zM17 30h1v1h-1zM18 32h1v1h-1zM16 38h1v1h-1zM19 47h2v1h-2zM19 50h1v1h-1zM19 51h1v1h-1zM20 53h1v1h-1zM21 54h1v1h-1zM21 55h1v1h-1zM20 56h1v1h-1zM19 57h3v1h-3zM24 57h1v1h-1zM3 58h1v1h-1zM19 58h1v1h-1zM23 58h2v1h-2zM5 59h2v1h-2zM24 59h1v1h-1zM20 60h3v1h-3zM17 61h1v1h-1zM17 63h1v1h-1z"/>
<path fill="#a0558f" d="M18 3h1v1h-1zM24 55h1v1h-1z"/>
<path fill="#bc6698" d="M0 4h3v1h-3zM0 5h7v1h-7zM0 6h13v1h-13zM0 7h17v1h-17zM0 8h23v1h-23zM0 9h25v1h-25zM0 10h25v1h-25zM0 11h25v1h-25zM0 12h25v1h-25zM0 13h25v1h-25zM0 14h25v1h-25zM0 15h25v1h-25zM4 16h21v1h-21zM4 17h21v1h-21zM14 18h11v1h-11zM14 19h11v1h-11zM24 20h1v1h-1zM24 21h1v1h-1z"/>
<path fill="#9a518d" d="M17 5h1v1h-1z"/>
<path fill="#934d8b" d="M13 6h1v1h-1zM22 7h1v1h-1zM12 19h1v1h-1zM22 20h1v1h-1zM23 21h1v1h-1zM24 22h1v1h-1zM12 23h1v1h-1zM12 28h1v1h-1zM15 58h1v1h-1zM14 59h1v1h-1zM14 60h1v1h-1z"/>
<path fill="#9b538e" d="M15 6h1v1h-1zM16 31h1v1h-1zM16 33h1v1h-1zM22 62h1v1h-1z"/>
<path fill="#924c8b" d="M12 18h1v1h-1zM12 24h1v1h-1zM12 25h1v1h-1zM12 26h1v1h-1zM12 27h1v1h-1z"/>
<path fill="#914b8a" d="M23 20h1v1h-1z"/>
<path fill="#a45891" d="M14 21h2v1h-2zM15 25h1v1h-1zM22 27h1v1h-1zM20 44h2v1h-2zM20 48h1v1h-1zM20 52h1v1h-1zM21 53h1v1h-1zM2 58h1v1h-1zM3 59h1v1h-1zM20 59h1v1h-1zM22 59h1v1h-1zM9 61h1v1h-1zM11 61h1v1h-1z"/>
<path fill="#a65a91" d="M15 22h1v1h-1zM17 22h1v1h-1zM22 26h1v1h-1zM22 29h1v1h-1zM22 43h1v1h-1zM21 46h1v1h-1zM21 47h1v1h-1zM20 50h1v1h-1zM20 51h1v1h-1zM21 52h1v1h-1zM22 53h1v1h-1zM0 57h1v1h-1zM1 58h1v1h-1z"/>
<path fill="#a45991" d="M18 22h1v1h-1zM19 31h1v1h-1zM18 33h1v1h-1z"/>
<path fill="#a65991" d="M15 23h1v1h-1zM22 25h1v1h-1z"/>
<path fill="#a95c93" d="M17 23h2v1h-2zM15 46h1v1h-1zM15 48h1v1h-1zM0 55h1v1h-1z"/>
<path fill="#a95c92" d="M16 25h1v1h-1zM15 26h1v1h-1zM20 28h1v1h-1zM21 31h2v1h-2zM18 36h1v1h-1zM22 42h1v1h-1zM22 45h1v1h-1zM22 46h1v1h-1zM23 48h1v1h-1zM23 49h1v1h-1zM24 50h1v1h-1zM12 63h1v1h-1z"/>
<path fill="#ad5f94" d="M18 25h1v1h-1zM18 26h2v1h-2zM18 27h1v1h-1zM17 28h1v1h-1zM24 32h1v1h-1zM23 33h1v1h-1zM19 34h1v1h-1zM19 35h1v1h-1zM19 36h1v1h-1zM23 36h1v1h-1zM18 37h1v1h-1zM23 37h2v1h-2zM23 38h2v1h-2zM24 39h1v1h-1zM23 40h1v1h-1zM22 41h1v1h-1zM24 43h1v1h-1zM24 44h1v1h-1zM16 45h1v1h-1zM24 45h1v1h-1zM18 46h1v1h-1zM24 46h1v1h-1zM0 60h1v1h-1zM3 61h1v1h-1zM7 61h1v1h-1z"/>
<path fill="#ae5f94" d="M17 26h1v1h-1z"/>
<path fill="#a95b92" d="M21 26h1v1h-1z"/>
<path fill="#af6195" d="M16 27h2v1h-2zM21 33h1v1h-1zM17 47h1v1h-1zM9 62h1v1h-1z"/>
<path fill="#ac5f94" d="M21 32h1v1h-1zM17 38h1v1h-1z"/>
<path fill="#ae6094" d="M20 33h1v1h-1zM22 33h1v1h-1zM22 34h1v1h-1zM22 35h1v1h-1zM22 36h1v1h-1zM22 37h1v1h-1zM23 39h1v1h-1zM16 46h1v1h-1z"/>
<path fill="#b06295" d="M20 34h2v1h-2zM20 35h2v1h-2zM21 36h1v1h-1zM21 37h1v1h-1zM22 39h1v1h-1zM1 61h1v1h-1z"/>
<path fill="#b06195" d="M20 36h1v1h-1zM19 37h1v1h-1zM22 40h1v1h-1zM21 41h1v1h-1z"/>
<path fill="#b16296" d="M20 37h1v1h-1zM18 38h1v1h-1zM21 38h1v1h-1zM16 40h1v1h-1zM20 42h1v1h-1zM8 62h1v1h-1z"/>
<path fill="#b36396" d="M19 38h1v1h-1z"/>
<path fill="#b26396" d="M20 38h1v1h-1zM17 39h1v1h-1zM21 39h1v1h-1zM21 40h1v1h-1zM19 43h1v1h-1zM17 44h1v1h-1zM17 45h2v1h-2zM0 61h1v1h-1zM2 62h6v1h-6z"/>
<path fill="#af6095" d="M22 38h1v1h-1zM2 61h1v1h-1zM11 62h1v1h-1zM11 63h1v1h-1z"/>
<path fill="#b56597" d="M18 39h2v1h-2zM17 40h1v1h-1zM19 42h1v1h-1zM18 43h1v1h-1zM8 63h2v1h-2z"/>
<path fill="#b36496" d="M20 39h1v1h-1zM20 40h1v1h-1zM16 41h1v1h-1zM20 41h1v1h-1zM16 42h1v1h-1zM17 43h1v1h-1z"/>
<path fill="#b76798" d="M18 40h1v1h-1zM18 41h1v1h-1zM1 63h1v1h-1z"/>
<path fill="#b66698" d="M19 40h1v1h-1zM17 41h1v1h-1zM19 41h1v1h-1z"/>
<path fill="#ac5e93" d="M24 40h1v1h-1zM24 42h1v1h-1zM23 44h1v1h-1zM24 47h1v1h-1z"/>
<path fill="#954f8c" d="M13 41h1v1h-1z"/>
<path fill="#b66697" d="M17 42h1v1h-1zM0 62h1v1h-1z"/>
<path fill="#b66798" d="M18 42h1v1h-1z"/>
<path fill="#b46497" d="M18 44h1v1h-1zM1 62h1v1h-1zM10 63h1v1h-1z"/>
<path fill="#ad6094" d="M19 44h1v1h-1z"/>
<path fill="#b16295" d="M17 46h1v1h-1zM10 62h1v1h-1z"/>
<path fill="#974f8c" d="M17 51h1v1h-1zM13 55h1v1h-1z"/>
<path fill="#904b8a" d="M14 61h1v1h-1z"/>
<path fill="#904c8a" d="M14 62h1v1h-1z"/>
<path fill="#b96899" d="M0 63h1v1h-1z"/>
<path fill="#b56697" d="M2 63h6v1h-6z"/>
</svg>
<svg class="p" style="left:1730px" width="475" height="1215" viewBox="0 0 25 64" preserveAspectRatio="none" shape-rendering="crispEdges">
<path fill="#c24373" d="M0 0h1v1h-1z"/>
<path fill="#c24879" d="M1 0h1v1h-1z"/>
<path fill="#b86098" d="M2 0h1v1h-1zM4 3h1v1h-1zM11 3h1v1h-1zM12 31h1v1h-1zM15 52h1v1h-1zM4 55h1v1h-1z"/>
<path fill="#c24c7f" d="M3 0h1v1h-1z"/>
<path fill="#c2497b" d="M4 0h1v1h-1zM6 2h1v1h-1zM15 36h1v1h-1zM15 37h1v1h-1zM14 44h1v1h-1zM4 56h1v1h-1zM14 56h1v1h-1zM12 60h1v1h-1z"/>
<path fill="#c13666" d="M5 0h1v1h-1zM15 28h1v1h-1zM16 35h1v1h-1zM16 36h1v1h-1zM16 37h1v1h-1zM16 39h1v1h-1zM18 47h1v1h-1zM4 57h1v1h-1z"/>
<path fill="#c13160" d="M6 0h1v1h-1zM6 1h1v1h-1zM11 1h1v1h-1zM14 23h1v1h-1zM16 33h1v1h-1zM16 40h1v1h-1zM19 47h1v1h-1zM19 51h1v1h-1z"/>
<path fill="#c12e5d" d="M7 0h3v1h-3zM15 24h1v1h-1zM20 46h1v1h-1zM20 47h1v1h-1zM20 48h1v1h-1zM20 49h1v1h-1zM20 50h1v1h-1zM20 51h1v1h-1zM19 54h1v1h-1zM18 55h1v1h-1zM17 56h1v1h-1zM2 57h1v1h-1zM6 58h1v1h-1zM16 58h1v1h-1zM8 60h1v1h-1zM15 60h1v1h-1zM11 61h1v1h-1z"/>
<path fill="#c12f5f" d="M10 0h1v1h-1z"/>
<path fill="#c13363" d="M11 0h1v1h-1z"/>
<path fill="#c13463" d="M12 0h1v1h-1z"/>
<path fill="#c1305f" d="M13 0h1v1h-1zM13 1h1v1h-1zM14 21h1v1h-1zM16 31h1v1h-1zM16 32h1v1h-1zM17 37h1v1h-1zM16 41h1v1h-1zM17 45h1v1h-1zM19 46h1v1h-1zM19 53h1v1h-1zM3 57h1v1h-1zM16 57h1v1h-1z"/>
<path fill="#c01d4b" d="M14 0h1v1h-1zM16 3h1v1h-1zM16 4h1v1h-1zM18 20h1v1h-1zM18 21h1v1h-1zM18 22h1v1h-1zM18 23h1v1h-1zM18 24h1v1h-1zM17 27h1v1h-1zM19 29h1v1h-1zM19 30h1v1h-1zM19 31h1v1h-1zM19 32h1v1h-1zM19 33h1v1h-1zM19 34h1v1h-1zM19 35h1v1h-1zM19 36h1v1h-1zM19 37h1v1h-1zM19 38h1v1h-1zM19 39h1v1h-1zM19 40h1v1h-1zM19 41h1v1h-1zM21 42h1v1h-1zM19 43h1v1h-1zM24 51h1v1h-1zM23 53h1v1h-1zM23 54h1v1h-1zM22 56h1v1h-1zM20 59h1v1h-1z"/>
<path fill="#c01c4a" d="M15 0h10v1h-10zM15 1h10v1h-10zM16 2h2v1h-2zM17 7h1v1h-1zM24 8h1v1h-1zM19 20h1v1h-1zM19 21h1v1h-1zM19 22h1v1h-1zM19 23h1v1h-1zM24 23h1v1h-1zM17 26h1v1h-1zM20 38h1v1h-1zM20 39h1v1h-1zM20 40h1v1h-1zM20 41h1v1h-1zM19 42h2v1h-2zM24 52h1v1h-1zM24 53h1v1h-1zM24 54h1v1h-1zM23 55h2v1h-2zM23 56h2v1h-2zM22 57h3v1h-3zM21 58h4v1h-4zM3 59h1v1h-1zM21 59h4v1h-4zM20 60h5v1h-5zM19 61h6v1h-6zM18 62h7v1h-7zM17 63h8v1h-8z"/>
<path fill="#c24475" d="M0 1h1v1h-1z"/>
<path fill="#c24a7c" d="M1 1h1v1h-1zM11 2h1v1h-1zM13 26h1v1h-1zM15 34h1v1h-1zM15 35h1v1h-1zM14 40h1v1h-1zM14 41h1v1h-1zM14 42h1v1h-1zM14 43h1v1h-1zM14 45h1v1h-1z"/>
<path fill="#bc5f94" d="M2 1h1v1h-1z"/>
<path fill="#c05488" d="M3 1h1v1h-1zM1 2h1v1h-1zM13 28h1v1h-1z"/>
<path fill="#c24c7e" d="M4 1h1v1h-1zM7 2h1v1h-1zM10 2h1v1h-1zM13 20h1v1h-1z"/>
<path fill="#c13868" d="M5 1h1v1h-1zM15 43h1v1h-1zM0 56h2v1h-2z"/>
<path fill="#c12d5c" d="M7 1h1v1h-1zM14 5h1v1h-1zM15 23h1v1h-1zM19 45h1v1h-1zM10 61h1v1h-1z"/>
<path fill="#c02b5a" d="M8 1h2v1h-2zM20 52h1v1h-1zM18 56h1v1h-1zM17 57h1v1h-1zM16 59h1v1h-1z"/>
<path fill="#c02d5c" d="M10 1h1v1h-1z"/>
<path fill="#c13262" d="M12 1h1v1h-1zM16 56h1v1h-1zM15 58h1v1h-1z"/>
<path fill="#c01e4c" d="M14 1h1v1h-1zM15 2h1v1h-1zM17 25h1v1h-1zM18 42h1v1h-1zM20 43h1v1h-1zM24 46h1v1h-1zM24 47h1v1h-1zM24 48h1v1h-1zM24 49h1v1h-1zM24 50h1v1h-1zM23 52h1v1h-1zM22 55h1v1h-1zM21 57h1v1h-1zM20 58h1v1h-1zM19 60h1v1h-1zM18 61h1v1h-1zM17 62h1v1h-1z"/>
<path fill="#c24a7d" d="M0 2h1v1h-1z"/>
<path fill="#be5c90" d="M2 2h1v1h-1zM5 56h1v1h-1zM8 58h1v1h-1z"/>
<path fill="#be5b90" d="M3 2h1v1h-1z"/>
<path fill="#c05588" d="M4 2h1v1h-1zM12 21h1v1h-1zM12 26h1v1h-1zM14 33h1v1h-1zM14 39h1v1h-1z"/>
<path fill="#c24b7d" d="M5 2h1v1h-1zM13 4h1v1h-1zM12 25h1v1h-1zM17 50h1v1h-1zM11 60h1v1h-1z"/>
<path fill="#c15286" d="M8 2h2v1h-2z"/>
<path fill="#c2487a" d="M12 2h1v1h-1zM14 28h1v1h-1zM15 38h1v1h-1zM16 47h1v1h-1zM17 49h1v1h-1zM3 56h1v1h-1z"/>
<path fill="#c23f6f" d="M13 2h1v1h-1zM13 22h1v1h-1zM13 23h1v1h-1zM13 24h1v1h-1zM15 32h1v1h-1zM15 40h1v1h-1zM14 58h1v1h-1z"/>
<path fill="#c0204e" d="M14 2h1v1h-1zM15 3h1v1h-1zM16 6h1v1h-1zM18 29h1v1h-1zM21 43h1v1h-1zM23 51h1v1h-1zM22 54h1v1h-1zM21 56h1v1h-1zM19 59h1v1h-1zM10 63h1v1h-1zM12 63h2v1h-2z"/>
<path fill="#c01b49" d="M18 2h1v1h-1zM23 2h1v1h-1zM17 3h1v1h-1zM23 8h1v1h-1zM24 22h1v1h-1zM19 24h1v1h-1zM18 25h1v1h-1zM20 37h1v1h-1zM21 41h1v1h-1z"/>
<path fill="#c01a49" d="M19 2h4v1h-4zM24 7h1v1h-1zM20 20h1v1h-1zM20 21h1v1h-1zM20 22h1v1h-1zM23 23h1v1h-1zM24 25h1v1h-1zM20 30h1v1h-1zM20 31h1v1h-1zM20 32h1v1h-1zM20 33h1v1h-1zM20 34h1v1h-1zM20 35h1v1h-1zM20 36h1v1h-1zM21 39h1v1h-1zM21 40h1v1h-1z"/>
<path fill="#c01b4a" d="M24 2h1v1h-1zM24 24h1v1h-1z"/>
<path fill="#b96298" d="M0 3h1v1h-1z"/>
<path fill="#b96097" d="M1 3h1v1h-1zM12 59h1v1h-1z"/>
<path fill="#9a469e" d="M2 3h1v1h-1z"/>
<path fill="#ae589b" d="M3 3h1v1h-1z"/>
<path fill="#b76199" d="M5 3h1v1h-1zM13 54h1v1h-1z"/>
<path fill="#b45e9a" d="M6 3h1v1h-1z"/>
<path fill="#94409e" d="M7 3h1v1h-1zM10 18h1v1h-1zM10 23h1v1h-1zM10 24h1v1h-1zM11 33h1v1h-1zM12 45h1v1h-1zM13 47h1v1h-1zM4 54h1v1h-1zM5 55h1v1h-1zM6 56h1v1h-1z"/>
<path fill="#832f9c" d="M8 3h1v1h-1zM9 20h1v1h-1zM9 21h1v1h-1zM9 22h1v1h-1zM10 59h1v1h-1z"/>
<path fill="#8a369d" d="M9 3h1v1h-1z"/>
<path fill="#913d9e" d="M10 3h1v1h-1zM9 25h1v1h-1z"/>
<path fill="#bc5d92" d="M12 3h1v1h-1zM2 55h1v1h-1z"/>
<path fill="#c24273" d="M13 3h1v1h-1z"/>
<path fill="#c02351" d="M14 3h1v1h-1zM17 42h1v1h-1zM17 43h1v1h-1zM23 43h1v1h-1zM20 44h2v1h-2zM22 51h1v1h-1zM20 56h1v1h-1zM3 58h1v1h-1zM15 62h1v1h-1z"/>
<path fill="#bf1746" d="M18 3h1v1h-1zM23 3h1v1h-1zM20 24h1v1h-1zM23 25h1v1h-1zM18 26h1v1h-1zM21 37h1v1h-1z"/>
<path fill="#be1645" d="M19 3h4v1h-4zM24 6h1v1h-1zM22 7h1v1h-1zM21 20h1v1h-1zM21 21h1v1h-1zM23 21h1v1h-1zM21 22h1v1h-1zM22 23h1v1h-1zM21 30h1v1h-1zM21 31h1v1h-1zM21 32h1v1h-1zM21 33h1v1h-1zM21 34h1v1h-1zM21 35h1v1h-1zM21 36h1v1h-1zM22 39h1v1h-1zM22 40h1v1h-1z"/>
<path fill="#bf1948" d="M24 3h1v1h-1zM17 4h1v1h-1zM18 7h1v1h-1zM23 7h1v1h-1zM23 22h1v1h-1zM20 23h1v1h-1zM23 24h1v1h-1zM19 25h1v1h-1zM20 29h1v1h-1zM21 38h1v1h-1z"/>
<path fill="#bc6698" d="M0 4h3v1h-3zM0 5h7v1h-7zM0 6h13v1h-13zM0 7h17v1h-17zM0 8h23v1h-23zM0 9h25v1h-25zM0 10h25v1h-25zM0 11h25v1h-25zM0 12h25v1h-25zM0 13h25v1h-25zM0 14h25v1h-25zM0 15h25v1h-25zM4 16h21v1h-21zM4 17h21v1h-21zM14 18h11v1h-11zM14 19h11v1h-11zM24 20h1v1h-1zM24 21h1v1h-1z"/>
<path fill="#a6529e" d="M3 4h1v1h-1z"/>
<path fill="#ad589d" d="M4 4h1v1h-1z"/>
<path fill="#ae599d" d="M5 4h1v1h-1z"/>
<path fill="#a5519e" d="M6 4h1v1h-1zM13 36h1v1h-1z"/>
<path fill="#812d9c" d="M7 4h1v1h-1zM9 29h1v1h-1zM10 30h1v1h-1zM12 35h1v1h-1zM12 37h1v1h-1zM14 52h1v1h-1z"/>
<path fill="#7a269c" d="M8 4h1v1h-1z"/>
<path fill="#822e9d" d="M9 4h1v1h-1zM8 27h1v1h-1z"/>
<path fill="#8b379e" d="M10 4h1v1h-1zM8 25h1v1h-1zM10 27h1v1h-1zM1 53h1v1h-1z"/>
<path fill="#b6609a" d="M11 4h1v1h-1z"/>
<path fill="#ba6297" d="M12 4h1v1h-1zM14 37h1v1h-1z"/>
<path fill="#c02756" d="M14 4h1v1h-1zM21 45h1v1h-1zM19 56h1v1h-1zM10 62h1v1h-1zM13 62h1v1h-1z"/>
<path fill="#c02250" d="M15 4h1v1h-1zM17 23h1v1h-1zM16 26h1v1h-1zM18 31h1v1h-1zM18 32h1v1h-1zM18 33h1v1h-1zM18 34h1v1h-1zM18 35h1v1h-1zM18 36h1v1h-1zM18 37h1v1h-1zM18 38h1v1h-1zM18 39h1v1h-1zM18 40h1v1h-1zM22 43h1v1h-1zM19 44h1v1h-1zM22 44h3v1h-3zM23 46h1v1h-1zM23 47h1v1h-1zM22 53h1v1h-1zM2 58h1v1h-1zM19 58h1v1h-1zM5 59h1v1h-1zM7 60h1v1h-1zM8 61h1v1h-1zM9 62h1v1h-1zM11 63h1v1h-1zM14 63h1v1h-1z"/>
<path fill="#be1545" d="M18 4h1v1h-1zM24 4h1v1h-1zM18 5h1v1h-1zM23 6h1v1h-1zM19 7h1v1h-1zM22 22h1v1h-1zM21 23h1v1h-1zM22 24h1v1h-1zM20 25h1v1h-1zM19 26h1v1h-1zM23 26h1v1h-1zM19 27h1v1h-1zM24 27h1v1h-1zM21 29h1v1h-1zM22 38h1v1h-1zM1 59h1v1h-1zM6 61h1v1h-1z"/>
<path fill="#be1444" d="M19 4h5v1h-5zM19 5h6v1h-6zM19 6h4v1h-4zM20 7h2v1h-2zM22 20h2v1h-2zM22 21h1v1h-1zM21 24h1v1h-1zM21 25h2v1h-2zM20 26h3v1h-3zM20 27h4v1h-4zM21 28h4v1h-4zM22 29h1v1h-1zM22 33h1v1h-1zM22 34h1v1h-1zM22 35h1v1h-1zM22 36h1v1h-1zM22 37h1v1h-1zM23 38h2v1h-2zM23 39h2v1h-2zM23 40h2v1h-2zM0 59h1v1h-1zM4 60h1v1h-1zM7 62h1v1h-1z"/>
<path fill="#65109a" d="M7 5h1v1h-1zM3 17h1v1h-1zM2 19h1v1h-1zM2 20h1v1h-1zM3 21h1v1h-1zM1 25h1v1h-1zM1 27h1v1h-1zM8 33h1v1h-1zM8 35h1v1h-1zM8 43h1v1h-1zM3 47h1v1h-1zM11 52h1v1h-1z"/>
<path fill="#67139a" d="M8 5h1v1h-1zM4 21h1v1h-1zM8 31h1v1h-1zM9 35h1v1h-1zM4 52h1v1h-1zM6 53h1v1h-1z"/>
<path fill="#77239c" d="M9 5h1v1h-1zM11 36h1v1h-1z"/>
<path fill="#78249c" d="M10 5h1v1h-1zM7 27h1v1h-1zM8 28h1v1h-1z"/>
<path fill="#a6519d" d="M11 5h1v1h-1z"/>
<path fill="#ba6298" d="M12 5h1v1h-1z"/>
<path fill="#c05387" d="M13 5h1v1h-1zM13 59h1v1h-1z"/>
<path fill="#c02452" d="M15 5h1v1h-1zM16 20h1v1h-1zM16 21h1v1h-1zM16 25h1v1h-1zM18 44h1v1h-1zM22 45h1v1h-1zM22 49h1v1h-1zM22 50h1v1h-1zM21 54h1v1h-1zM19 57h1v1h-1zM18 59h1v1h-1z"/>
<path fill="#c01d4c" d="M16 5h1v1h-1z"/>
<path fill="#bf1847" d="M17 5h1v1h-1zM24 26h1v1h-1zM22 41h1v1h-1z"/>
<path fill="#c23e6e" d="M13 6h1v1h-1zM14 26h1v1h-1zM15 31h1v1h-1zM17 53h1v1h-1zM16 54h1v1h-1zM15 56h1v1h-1z"/>
<path fill="#c12f5e" d="M14 6h1v1h-1zM14 20h1v1h-1zM15 26h1v1h-1zM16 30h1v1h-1zM17 36h1v1h-1zM17 38h1v1h-1zM16 42h1v1h-1zM16 44h1v1h-1zM18 45h1v1h-1zM12 61h1v1h-1z"/>
<path fill="#c02856" d="M15 6h1v1h-1zM16 23h1v1h-1zM4 58h1v1h-1zM15 61h1v1h-1z"/>
<path fill="#bf1a49" d="M17 6h1v1h-1zM2 59h1v1h-1z"/>
<path fill="#bf1646" d="M18 6h1v1h-1zM20 28h1v1h-1z"/>
<path fill="#5a0898" d="M0 16h1v1h-1zM0 30h1v1h-1zM0 31h1v1h-1zM0 32h1v1h-1zM0 33h5v1h-5zM0 34h6v1h-6zM0 35h5v1h-5zM3 36h2v1h-2zM4 37h1v1h-1zM4 38h1v1h-1zM4 39h1v1h-1zM4 40h2v1h-2zM2 41h3v1h-3zM0 42h5v1h-5zM0 43h5v1h-5zM0 44h5v1h-5zM8 48h2v1h-2zM9 49h1v1h-1zM9 50h1v1h-1zM9 51h1v1h-1z"/>
<path fill="#5c0a98" d="M1 16h1v1h-1zM0 29h1v1h-1zM0 36h1v1h-1zM5 37h1v1h-1zM10 48h1v1h-1z"/>
<path fill="#620d9a" d="M2 16h1v1h-1zM0 28h1v1h-1zM0 37h1v1h-1z"/>
<path fill="#640f9a" d="M3 16h1v1h-1zM2 18h1v1h-1zM0 20h2v1h-2zM0 21h3v1h-3zM0 22h4v1h-4zM0 23h3v1h-3zM0 24h2v1h-2zM0 25h1v1h-1zM0 26h1v1h-1zM0 27h1v1h-1zM6 31h1v1h-1zM8 34h1v1h-1zM0 38h1v1h-1zM7 42h1v1h-1zM7 43h1v1h-1zM7 44h2v1h-2zM9 45h1v1h-1zM5 46h1v1h-1zM6 47h1v1h-1zM0 48h1v1h-1zM6 48h1v1h-1zM0 49h1v1h-1zM11 49h1v1h-1zM2 50h1v1h-1zM7 51h1v1h-1zM7 52h1v1h-1z"/>
<path fill="#5b0898" d="M0 17h1v1h-1zM1 30h1v1h-1zM1 32h1v1h-1zM4 32h1v1h-1zM5 33h1v1h-1zM5 35h1v1h-1zM2 36h1v1h-1zM3 37h1v1h-1zM5 39h1v1h-1zM3 40h1v1h-1zM1 41h1v1h-1zM5 41h1v1h-1zM8 47h2v1h-2zM8 49h1v1h-1z"/>
<path fill="#5d0a99" d="M1 17h1v1h-1zM3 29h1v1h-1zM4 30h1v1h-1zM5 31h1v1h-1zM6 33h1v1h-1zM6 35h1v1h-1zM2 37h1v1h-1zM6 39h1v1h-1zM1 40h1v1h-1zM6 41h1v1h-1zM8 46h2v1h-2zM7 47h1v1h-1zM7 49h1v1h-1z"/>
<path fill="#620e9a" d="M2 17h1v1h-1zM1 28h1v1h-1zM7 33h1v1h-1zM7 34h1v1h-1zM1 39h1v1h-1zM6 43h1v1h-1zM6 44h1v1h-1zM6 45h1v1h-1zM8 45h1v1h-1zM3 46h1v1h-1zM2 48h1v1h-1zM9 53h1v1h-1z"/>
<path fill="#5e0b99" d="M0 18h1v1h-1zM2 31h2v1h-2zM5 45h1v1h-1zM8 52h1v1h-1zM10 52h1v1h-1z"/>
<path fill="#610d99" d="M1 18h1v1h-1zM6 32h1v1h-1zM1 37h1v1h-1zM2 38h1v1h-1zM6 42h1v1h-1zM2 46h1v1h-1zM7 46h1v1h-1z"/>
<path fill="#66129a" d="M3 18h1v1h-1zM7 36h1v1h-1z"/>
<path fill="#6a169a" d="M4 18h1v1h-1zM4 23h1v1h-1zM3 24h1v1h-1zM2 26h1v1h-1zM7 30h1v1h-1zM8 39h1v1h-1zM8 40h1v1h-1zM10 45h1v1h-1zM4 48h2v1h-2zM4 49h1v1h-1zM5 51h2v1h-2zM10 54h1v1h-1z"/>
<path fill="#6e1a9a" d="M5 18h1v1h-1zM5 19h1v1h-1zM5 25h1v1h-1zM5 26h1v1h-1zM5 27h1v1h-1zM7 29h1v1h-1zM10 39h1v1h-1z"/>
<path fill="#721e9b" d="M6 18h1v1h-1zM6 19h1v1h-1zM6 20h1v1h-1zM6 28h1v1h-1zM10 33h1v1h-1zM3 53h1v1h-1z"/>
<path fill="#6c189a" d="M7 18h1v1h-1zM4 19h1v1h-1zM8 20h1v1h-1zM5 21h1v1h-1zM4 24h1v1h-1zM3 25h2v1h-2zM3 26h2v1h-2zM4 27h1v1h-1zM5 28h1v1h-1zM6 29h1v1h-1zM8 30h1v1h-1zM9 32h1v1h-1zM10 34h1v1h-1zM10 35h1v1h-1zM9 39h1v1h-1zM9 40h2v1h-2zM9 41h2v1h-2zM10 42h1v1h-1zM12 48h1v1h-1zM6 55h2v1h-2z"/>
<path fill="#67129a" d="M8 18h1v1h-1zM4 22h1v1h-1zM7 23h2v1h-2zM5 29h1v1h-1zM9 34h1v1h-1zM6 37h1v1h-1zM7 38h1v1h-1zM8 42h1v1h-1zM9 44h1v1h-1zM3 51h2v1h-2zM8 54h2v1h-2z"/>
<path fill="#84309c" d="M9 18h1v1h-1zM9 19h1v1h-1z"/>
<path fill="#bb6498" d="M11 18h1v1h-1zM11 19h1v1h-1z"/>
<path fill="#c24d80" d="M12 18h1v1h-1z"/>
<path fill="#c15185" d="M13 18h1v1h-1z"/>
<path fill="#630e9a" d="M0 19h1v1h-1zM7 35h1v1h-1zM1 47h1v1h-1zM1 49h1v1h-1zM11 51h1v1h-1zM8 53h1v1h-1z"/>
<path fill="#630f9a" d="M1 19h1v1h-1zM2 28h1v1h-1zM7 32h1v1h-1zM1 38h1v1h-1zM0 39h1v1h-1zM7 45h1v1h-1zM4 46h1v1h-1zM6 46h1v1h-1zM0 47h1v1h-1zM2 47h1v1h-1zM1 48h1v1h-1zM11 50h1v1h-1z"/>
<path fill="#69159a" d="M3 19h1v1h-1zM2 25h1v1h-1zM4 28h1v1h-1zM8 36h1v1h-1zM7 37h1v1h-1zM8 41h1v1h-1zM9 43h1v1h-1zM4 50h1v1h-1zM6 50h1v1h-1zM5 53h1v1h-1zM7 54h1v1h-1z"/>
<path fill="#6d199a" d="M7 19h1v1h-1zM7 21h2v1h-2zM5 24h1v1h-1zM9 37h1v1h-1zM9 38h1v1h-1zM9 56h1v1h-1z"/>
<path fill="#68149a" d="M8 19h1v1h-1zM6 52h1v1h-1z"/>
<path fill="#923e9e" d="M10 19h1v1h-1zM10 22h1v1h-1zM14 53h1v1h-1z"/>
<path fill="#c24e81" d="M12 19h1v1h-1z"/>
<path fill="#c15184" d="M13 19h1v1h-1z"/>
<path fill="#69149a" d="M3 20h1v1h-1zM6 23h1v1h-1zM2 27h1v1h-1zM6 30h1v1h-1zM4 47h2v1h-2z"/>
<path fill="#6b179a" d="M4 20h1v1h-1zM5 22h1v1h-1zM7 22h1v1h-1zM5 23h1v1h-1zM3 27h1v1h-1zM9 36h1v1h-1zM8 37h1v1h-1zM8 38h1v1h-1zM9 42h1v1h-1zM11 47h1v1h-1zM5 49h1v1h-1zM5 50h1v1h-1zM1 51h1v1h-1zM3 52h1v1h-1zM11 53h1v1h-1zM9 55h2v1h-2z"/>
<path fill="#6e199a" d="M5 20h1v1h-1zM7 20h1v1h-1z"/>
<path fill="#8b379d" d="M10 20h1v1h-1zM10 21h1v1h-1z"/>
<path fill="#bc6397" d="M11 20h1v1h-1zM11 24h1v1h-1z"/>
<path fill="#c15387" d="M12 20h1v1h-1z"/>
<path fill="#c02958" d="M15 20h1v1h-1zM15 21h1v1h-1zM17 32h1v1h-1zM17 33h1v1h-1zM17 34h1v1h-1zM17 40h1v1h-1zM17 44h1v1h-1zM20 45h1v1h-1zM21 48h1v1h-1zM21 49h1v1h-1zM21 50h1v1h-1zM1 57h1v1h-1zM16 60h1v1h-1zM9 61h1v1h-1zM11 62h2v1h-2z"/>
<path fill="#c0214f" d="M17 20h1v1h-1zM17 21h1v1h-1zM17 22h1v1h-1zM17 24h1v1h-1zM17 28h1v1h-1zM18 30h1v1h-1zM18 41h1v1h-1zM24 42h1v1h-1zM23 45h1v1h-1zM23 48h1v1h-1zM23 49h1v1h-1zM23 50h1v1h-1zM21 55h1v1h-1zM20 57h1v1h-1zM16 62h1v1h-1zM15 63h1v1h-1z"/>
<path fill="#701c9b" d="M6 21h1v1h-1zM14 51h1v1h-1z"/>
<path fill="#bc6297" d="M11 21h1v1h-1zM11 22h1v1h-1zM11 23h1v1h-1z"/>
<path fill="#c24071" d="M13 21h1v1h-1zM14 27h1v1h-1zM15 33h1v1h-1zM14 57h1v1h-1z"/>
<path fill="#6c179a" d="M6 22h1v1h-1zM8 22h1v1h-1zM10 43h1v1h-1zM12 49h1v1h-1zM12 52h1v1h-1zM4 53h1v1h-1zM8 55h1v1h-1z"/>
<path fill="#c05589" d="M12 22h1v1h-1zM12 23h1v1h-1zM14 34h1v1h-1zM16 53h1v1h-1zM15 54h1v1h-1zM14 55h1v1h-1z"/>
<path fill="#c13060" d="M14 22h1v1h-1zM15 27h1v1h-1zM19 52h1v1h-1zM15 59h1v1h-1z"/>
<path fill="#c02a59" d="M15 22h1v1h-1zM16 29h1v1h-1zM17 35h1v1h-1zM17 39h1v1h-1zM21 46h1v1h-1zM21 47h1v1h-1zM20 53h1v1h-1zM19 55h1v1h-1zM17 58h1v1h-1zM14 61h1v1h-1z"/>
<path fill="#c02553" d="M16 22h1v1h-1zM17 30h1v1h-1zM20 55h1v1h-1z"/>
<path fill="#66119a" d="M3 23h1v1h-1zM2 24h1v1h-1zM1 26h1v1h-1zM7 31h1v1h-1zM8 32h1v1h-1zM0 50h1v1h-1z"/>
<path fill="#85319c" d="M9 23h1v1h-1z"/>
<path fill="#741f9b" d="M6 24h1v1h-1zM9 57h1v1h-1z"/>
<path fill="#822e9c" d="M7 24h1v1h-1zM11 54h1v1h-1z"/>
<path fill="#86329d" d="M8 24h1v1h-1z"/>
<path fill="#8d399d" d="M9 24h1v1h-1z"/>
<path fill="#c05487" d="M12 24h1v1h-1zM15 47h1v1h-1z"/>
<path fill="#c13261" d="M14 24h1v1h-1zM18 46h1v1h-1zM19 48h1v1h-1zM19 49h1v1h-1zM19 50h1v1h-1zM18 54h1v1h-1zM17 55h1v1h-1z"/>
<path fill="#c02857" d="M16 24h1v1h-1zM16 28h1v1h-1zM17 31h1v1h-1zM17 41h1v1h-1zM21 52h1v1h-1zM20 54h1v1h-1zM18 57h1v1h-1zM6 59h1v1h-1zM17 59h1v1h-1z"/>
<path fill="#75219c" d="M6 25h1v1h-1zM6 26h1v1h-1zM10 31h1v1h-1zM13 49h1v1h-1z"/>
<path fill="#87339d" d="M7 25h1v1h-1z"/>
<path fill="#933f9e" d="M10 25h1v1h-1zM12 34h1v1h-1z"/>
<path fill="#bb6397" d="M11 25h1v1h-1z"/>
<path fill="#c24172" d="M13 25h1v1h-1zM14 29h1v1h-1zM15 45h1v1h-1z"/>
<path fill="#c13362" d="M14 25h1v1h-1zM16 45h1v1h-1zM9 60h1v1h-1z"/>
<path fill="#c12f5d" d="M15 25h1v1h-1z"/>
<path fill="#812d9d" d="M7 26h1v1h-1zM11 38h1v1h-1z"/>
<path fill="#8a369e" d="M8 26h1v1h-1zM9 27h1v1h-1zM10 28h1v1h-1z"/>
<path fill="#8d399e" d="M9 26h1v1h-1zM11 34h1v1h-1zM11 39h1v1h-1zM13 48h1v1h-1zM11 56h1v1h-1z"/>
<path fill="#8e3a9e" d="M10 26h1v1h-1zM11 44h1v1h-1z"/>
<path fill="#bb6297" d="M11 26h1v1h-1z"/>
<path fill="#74209c" d="M6 27h1v1h-1zM7 28h1v1h-1zM2 53h1v1h-1z"/>
<path fill="#b75f99" d="M11 27h1v1h-1z"/>
<path fill="#bd5c91" d="M12 27h1v1h-1zM13 33h1v1h-1z"/>
<path fill="#c15386" d="M13 27h1v1h-1zM17 51h1v1h-1z"/>
<path fill="#c02352" d="M16 27h1v1h-1zM17 29h1v1h-1zM0 57h1v1h-1z"/>
<path fill="#bf1747" d="M18 27h1v1h-1z"/>
<path fill="#65119a" d="M3 28h1v1h-1zM6 49h1v1h-1zM1 50h1v1h-1zM7 53h1v1h-1z"/>
<path fill="#84309d" d="M9 28h1v1h-1z"/>
<path fill="#af5a9c" d="M11 28h1v1h-1z"/>
<path fill="#ba6096" d="M12 28h1v1h-1zM13 39h1v1h-1z"/>
<path fill="#c01c4b" d="M18 28h1v1h-1zM9 63h1v1h-1z"/>
<path fill="#bf1a48" d="M19 28h1v1h-1z"/>
<path fill="#5c0998" d="M1 29h2v1h-2zM2 30h2v1h-2zM4 31h1v1h-1zM2 32h2v1h-2zM5 32h1v1h-1zM6 34h1v1h-1zM1 36h1v1h-1zM3 38h1v1h-1zM3 39h1v1h-1zM2 40h1v1h-1zM5 42h1v1h-1zM5 43h1v1h-1zM5 44h1v1h-1zM2 45h3v1h-3zM7 48h1v1h-1zM10 49h1v1h-1zM8 50h1v1h-1zM10 50h1v1h-1zM8 51h1v1h-1zM10 51h1v1h-1zM9 52h1v1h-1z"/>
<path fill="#630f99" d="M4 29h1v1h-1zM5 30h1v1h-1zM7 39h1v1h-1zM7 41h1v1h-1zM10 46h1v1h-1z"/>
<path fill="#6f1b9b" d="M8 29h1v1h-1zM10 36h1v1h-1z"/>
<path fill="#89359d" d="M10 29h1v1h-1zM12 38h1v1h-1zM14 49h1v1h-1z"/>
<path fill="#a4509e" d="M11 29h1v1h-1z"/>
<path fill="#ba6197" d="M12 29h1v1h-1zM12 30h1v1h-1zM14 36h1v1h-1zM3 55h1v1h-1z"/>
<path fill="#c05689" d="M13 29h1v1h-1z"/>
<path fill="#c13767" d="M15 29h1v1h-1zM15 42h1v1h-1zM18 48h1v1h-1zM18 50h1v1h-1zM17 54h1v1h-1zM16 55h1v1h-1zM15 57h1v1h-1z"/>
<path fill="#be1344" d="M23 29h1v1h-1zM22 30h1v1h-1zM22 32h1v1h-1zM23 37h1v1h-1z"/>
<path fill="#be1343" d="M24 29h1v1h-1zM22 31h1v1h-1zM24 37h1v1h-1zM3 60h1v1h-1z"/>
<path fill="#75219b" d="M9 30h1v1h-1zM11 46h1v1h-1z"/>
<path fill="#a14d9e" d="M11 30h1v1h-1z"/>
<path fill="#be5d90" d="M13 30h1v1h-1zM10 60h1v1h-1z"/>
<path fill="#c14a7c" d="M14 30h1v1h-1zM17 52h1v1h-1z"/>
<path fill="#c13867" d="M15 30h1v1h-1zM15 41h1v1h-1zM18 52h1v1h-1z"/>
<path fill="#bd1142" d="M23 30h1v1h-1zM23 32h1v1h-1zM5 61h1v1h-1z"/>
<path fill="#bd0e40" d="M24 30h1v1h-1zM7 63h1v1h-1z"/>
<path fill="#5b0998" d="M1 31h1v1h-1zM5 36h1v1h-1zM5 38h1v1h-1zM6 40h1v1h-1zM0 41h1v1h-1zM0 45h2v1h-2z"/>
<path fill="#6e199b" d="M9 31h1v1h-1z"/>
<path fill="#98449e" d="M11 31h1v1h-1zM3 54h1v1h-1z"/>
<path fill="#be5d91" d="M13 31h1v1h-1z"/>
<path fill="#c15588" d="M14 31h1v1h-1z"/>
<path fill="#bd0f40" d="M23 31h1v1h-1zM24 36h1v1h-1z"/>
<path fill="#bc0b3e" d="M24 31h1v1h-1z"/>
<path fill="#731f9b" d="M10 32h1v1h-1zM10 37h1v1h-1zM12 47h1v1h-1zM13 50h1v1h-1zM1 52h1v1h-1z"/>
<path fill="#96429e" d="M11 32h1v1h-1zM11 42h1v1h-1z"/>
<path fill="#b75f98" d="M12 32h1v1h-1zM12 33h1v1h-1zM13 38h1v1h-1zM12 42h1v1h-1zM15 50h1v1h-1zM12 58h1v1h-1z"/>
<path fill="#bd5c90" d="M13 32h1v1h-1zM16 49h1v1h-1z"/>
<path fill="#c15689" d="M14 32h1v1h-1z"/>
<path fill="#bc0c3f" d="M24 32h1v1h-1zM0 60h1v1h-1z"/>
<path fill="#6b169a" d="M9 33h1v1h-1zM10 44h1v1h-1zM12 50h1v1h-1zM0 51h1v1h-1zM6 54h1v1h-1z"/>
<path fill="#be1243" d="M23 33h1v1h-1zM23 34h1v1h-1zM23 35h1v1h-1zM23 36h1v1h-1z"/>
<path fill="#bd0d3f" d="M24 33h1v1h-1zM24 34h1v1h-1zM24 35h1v1h-1zM2 60h1v1h-1z"/>
<path fill="#b75d97" d="M13 34h1v1h-1z"/>
<path fill="#c13565" d="M16 34h1v1h-1z"/>
<path fill="#76229c" d="M11 35h1v1h-1z"/>
<path fill="#af599b" d="M13 35h1v1h-1zM12 56h1v1h-1z"/>
<path fill="#bc5b90" d="M14 35h1v1h-1z"/>
<path fill="#620e99" d="M6 36h1v1h-1zM6 38h1v1h-1zM7 50h1v1h-1z"/>
<path fill="#7f2b9c" d="M12 36h1v1h-1zM14 50h1v1h-1zM8 57h1v1h-1z"/>
<path fill="#79259c" d="M11 37h1v1h-1z"/>
<path fill="#a4509d" d="M13 37h1v1h-1z"/>
<path fill="#74209b" d="M10 38h1v1h-1zM13 52h1v1h-1zM12 53h1v1h-1zM8 56h1v1h-1z"/>
<path fill="#bd5d91" d="M14 38h1v1h-1zM13 40h1v1h-1zM13 41h1v1h-1zM13 42h1v1h-1zM13 43h1v1h-1zM14 46h1v1h-1zM16 52h1v1h-1z"/>
<path fill="#c13766" d="M16 38h1v1h-1zM17 46h1v1h-1zM18 49h1v1h-1z"/>
<path fill="#600c99" d="M2 39h1v1h-1zM0 40h1v1h-1zM0 46h1v1h-1zM2 49h1v1h-1z"/>
<path fill="#a14c9e" d="M12 39h1v1h-1z"/>
<path fill="#c24070" d="M15 39h1v1h-1zM16 46h1v1h-1zM0 55h1v1h-1zM15 55h1v1h-1z"/>
<path fill="#5f0c99" d="M7 40h1v1h-1z"/>
<path fill="#97439e" d="M11 40h1v1h-1zM11 41h1v1h-1z"/>
<path fill="#a14d9d" d="M12 40h1v1h-1z"/>
<path fill="#b75e98" d="M12 41h1v1h-1zM12 43h1v1h-1z"/>
<path fill="#be1646" d="M23 41h2v1h-2zM5 60h1v1h-1zM8 63h1v1h-1z"/>
<path fill="#c01f4d" d="M22 42h1v1h-1zM18 43h1v1h-1zM24 45h1v1h-1zM16 63h1v1h-1z"/>
<path fill="#c0204f" d="M23 42h1v1h-1zM1 58h1v1h-1z"/>
<path fill="#95419e" d="M11 43h1v1h-1zM12 54h1v1h-1z"/>
<path fill="#c02655" d="M16 43h1v1h-1zM17 60h1v1h-1z"/>
<path fill="#c02453" d="M24 43h1v1h-1zM22 48h1v1h-1zM16 61h1v1h-1zM14 62h1v1h-1z"/>
<path fill="#a14c9d" d="M12 44h1v1h-1zM14 48h1v1h-1zM0 53h1v1h-1z"/>
<path fill="#be5c8f" d="M13 44h1v1h-1z"/>
<path fill="#c23f70" d="M15 44h1v1h-1z"/>
<path fill="#832f9d" d="M11 45h1v1h-1z"/>
<path fill="#bd5d90" d="M13 45h1v1h-1z"/>
<path fill="#5f0b99" d="M1 46h1v1h-1z"/>
<path fill="#8c389e" d="M12 46h1v1h-1zM0 52h1v1h-1zM13 53h1v1h-1zM11 55h1v1h-1zM7 56h1v1h-1zM11 57h1v1h-1zM11 58h1v1h-1z"/>
<path fill="#b95f96" d="M13 46h1v1h-1zM7 57h1v1h-1z"/>
<path fill="#c24a7b" d="M15 46h1v1h-1z"/>
<path fill="#c02755" d="M22 46h1v1h-1zM22 47h1v1h-1zM21 53h1v1h-1zM18 58h1v1h-1z"/>
<path fill="#5d0a98" d="M10 47h1v1h-1z"/>
<path fill="#bb6095" d="M14 47h1v1h-1zM16 51h1v1h-1z"/>
<path fill="#c23e6f" d="M17 47h1v1h-1zM2 56h1v1h-1zM13 60h1v1h-1z"/>
<path fill="#64109a" d="M3 48h1v1h-1zM3 50h1v1h-1zM10 53h1v1h-1z"/>
<path fill="#64119a" d="M11 48h1v1h-1z"/>
<path fill="#bd5b90" d="M15 48h1v1h-1z"/>
<path fill="#c24b7c" d="M16 48h1v1h-1z"/>
<path fill="#c24171" d="M17 48h1v1h-1z"/>
<path fill="#600d99" d="M3 49h1v1h-1z"/>
<path fill="#b85f97" d="M15 49h1v1h-1z"/>
<path fill="#bd5d92" d="M16 50h1v1h-1zM6 57h1v1h-1z"/>
<path fill="#6a159a" d="M2 51h1v1h-1z"/>
<path fill="#68139a" d="M12 51h1v1h-1zM5 52h1v1h-1zM10 56h1v1h-1zM10 57h1v1h-1z"/>
<path fill="#6e1a9b" d="M13 51h1v1h-1zM2 52h1v1h-1z"/>
<path fill="#a8549d" d="M15 51h1v1h-1z"/>
<path fill="#c13d6d" d="M18 51h1v1h-1z"/>
<path fill="#c02957" d="M21 51h1v1h-1z"/>
<path fill="#c02251" d="M22 52h1v1h-1z"/>
<path fill="#bb6096" d="M15 53h1v1h-1z"/>
<path fill="#c13665" d="M18 53h1v1h-1zM14 60h1v1h-1z"/>
<path fill="#bf5388" d="M0 54h1v1h-1z"/>
<path fill="#b55b97" d="M1 54h1v1h-1z"/>
<path fill="#a24d9d" d="M2 54h1v1h-1z"/>
<path fill="#903c9e" d="M5 54h1v1h-1z"/>
<path fill="#bb6197" d="M14 54h1v1h-1z"/>
<path fill="#c14879" d="M1 55h1v1h-1z"/>
<path fill="#a24e9e" d="M12 55h1v1h-1z"/>
<path fill="#ba6097" d="M13 55h1v1h-1z"/>
<path fill="#bd5b91" d="M13 56h1v1h-1z"/>
<path fill="#c23d6d" d="M5 57h1v1h-1zM14 59h1v1h-1z"/>
<path fill="#b55d99" d="M12 57h1v1h-1z"/>
<path fill="#bf558a" d="M13 57h1v1h-1z"/>
<path fill="#bf1d4b" d="M0 58h1v1h-1zM4 59h1v1h-1z"/>
<path fill="#c02a58" d="M5 58h1v1h-1z"/>
<path fill="#c14b7d" d="M7 58h1v1h-1z"/>
<path fill="#943f9e" d="M9 58h1v1h-1z"/>
<path fill="#6d189a" d="M10 58h1v1h-1z"/>
<path fill="#c05489" d="M13 58h1v1h-1z"/>
<path fill="#c13564" d="M7 59h1v1h-1z"/>
<path fill="#c1497b" d="M8 59h1v1h-1z"/>
<path fill="#bc6296" d="M9 59h1v1h-1z"/>
<path fill="#a34f9d" d="M11 59h1v1h-1z"/>
<path fill="#bc0c3e" d="M1 60h1v1h-1z"/>
<path fill="#bf1c4b" d="M6 60h1v1h-1z"/>
<path fill="#c02150" d="M18 60h1v1h-1zM17 61h1v1h-1z"/>
<path fill="#bc0a3d" d="M0 61h2v1h-2zM3 61h1v1h-1zM5 62h1v1h-1z"/>
<path fill="#bb093c" d="M2 61h1v1h-1z"/>
<path fill="#bc0d3f" d="M4 61h1v1h-1zM6 62h1v1h-1z"/>
<path fill="#bf1b4a" d="M7 61h1v1h-1z"/>
<path fill="#c12e5e" d="M13 61h1v1h-1z"/>
<path fill="#bb083b" d="M0 62h1v1h-1zM4 62h1v1h-1z"/>
<path fill="#bb073b" d="M1 62h1v1h-1z"/>
<path fill="#b90538" d="M2 62h2v1h-2zM0 63h1v1h-1z"/>
<path fill="#bf1c4a" d="M8 62h1v1h-1z"/>
<path fill="#b90438" d="M1 63h1v1h-1zM4 63h1v1h-1z"/>
<path fill="#b80337" d="M2 63h2v1h-2z"/>
<path fill="#ba0639" d="M5 63h1v1h-1z"/>
<path fill="#bc0a3c" d="M6 63h1v1h-1z"/>
</svg>
<svg class="p" style="left:15px" width="475" height="1215" viewBox="0 0 475 1215">
<g fill="#000018"><circle cx="47.3" cy="40.2" r="1.55"/><circle cx="43.5" cy="47.3" r="1.55"/><circle cx="56.3" cy="47.3" r="1.55"/><circle cx="108.5" cy="66.4" r="1.55"/><circle cx="123.3" cy="63.4" r="1.55"/><circle cx="142.6" cy="58.2" r="1.55"/><circle cx="161.4" cy="55.4" r="1.55"/><circle cx="180.4" cy="56.3" r="1.55"/><circle cx="199.5" cy="57.4" r="1.55"/><circle cx="218.3" cy="65.3" r="1.55"/><circle cx="221.3" cy="66.4" r="1.55"/><circle cx="227.3" cy="85.4" r="1.55"/><circle cx="214.7" cy="370.4" r="1.55"/><circle cx="215.3" cy="389.4" r="1.55"/><circle cx="215.3" cy="408.5" r="1.55"/><circle cx="215.3" cy="427.5" r="1.55"/><circle cx="215.3" cy="446.3" r="1.55"/><circle cx="214.7" cy="465.4" r="1.55"/><circle cx="214.7" cy="484.4" r="1.55"/><circle cx="215.3" cy="503.3" r="1.55"/><circle cx="218.3" cy="522.3" r="1.55"/><circle cx="228.4" cy="541.4" r="1.55"/><circle cx="236.3" cy="560.2" r="1.55"/><circle cx="237.4" cy="566.2" r="1.55"/><circle cx="240.4" cy="579.3" r="1.55"/><circle cx="245.3" cy="598.3" r="1.55"/><circle cx="245.3" cy="617.4" r="1.55"/><circle cx="243.4" cy="636.6" r="1.55"/><circle cx="254.3" cy="655.5" r="1.55"/><circle cx="256.2" cy="663.4" r="1.55"/><circle cx="261.3" cy="674.3" r="1.55"/><circle cx="264.3" cy="693.4" r="1.55"/><circle cx="267.3" cy="712.4" r="1.55"/><circle cx="256.2" cy="729.5" r="1.55"/><circle cx="256.2" cy="731.7" r="1.55"/><circle cx="249.4" cy="750.5" r="1.55"/><circle cx="246.4" cy="769.3" r="1.55"/><circle cx="241.4" cy="788.4" r="1.55"/><circle cx="242.3" cy="807.4" r="1.55"/><circle cx="242.3" cy="826.5" r="1.55"/><circle cx="246.4" cy="845.3" r="1.55"/><circle cx="248.3" cy="864.3" r="1.55"/><circle cx="256.2" cy="882.3" r="1.55"/><circle cx="257.5" cy="883.4" r="1.55"/><circle cx="275.3" cy="899.2" r="1.55"/><circle cx="278.3" cy="902.4" r="1.55"/><circle cx="285.3" cy="921.3" r="1.55"/><circle cx="294.3" cy="940.3" r="1.55"/><circle cx="294.3" cy="941.4" r="1.55"/><circle cx="298.4" cy="959.4" r="1.55"/><circle cx="306.3" cy="978.4" r="1.55"/><circle cx="296.2" cy="997.5" r="1.55"/><circle cx="294.3" cy="1000.5" r="1.55"/><circle cx="289.4" cy="1016.5" r="1.55"/><circle cx="275.3" cy="1031.3" r="1.55"/><circle cx="268.2" cy="1035.3" r="1.55"/><circle cx="256.2" cy="1046.5" r="1.55"/><circle cx="252.4" cy="1054.4" r="1.55"/><circle cx="244.4" cy="1073.4" r="1.55"/><circle cx="237.4" cy="1087.4" r="1.55"/><circle cx="236.3" cy="1092.5" r="1.55"/><circle cx="9.4" cy="1026.4" r="1.55"/><circle cx="28.3" cy="1032.3" r="1.55"/><circle cx="33.4" cy="1035.3" r="1.55"/><circle cx="47.3" cy="1049.3" r="1.55"/><circle cx="63.1" cy="1054.4" r="1.55"/><circle cx="66.1" cy="1054.4" r="1.55"/><circle cx="85.4" cy="1059.3" r="1.55"/><circle cx="104.5" cy="1069.4" r="1.55"/><circle cx="110.4" cy="1073.4" r="1.55"/><circle cx="123.3" cy="1085.4" r="1.55"/><circle cx="132.5" cy="1092.5" r="1.55"/><circle cx="142.6" cy="1097.4" r="1.55"/><circle cx="161.4" cy="1110.3" r="1.55"/><circle cx="162.7" cy="1111.4" r="1.55"/><circle cx="180.4" cy="1128.3" r="1.55"/><circle cx="182.4" cy="1130.4" r="1.55"/><circle cx="199.5" cy="1141.6" r="1.55"/><circle cx="218.3" cy="1135.3" r="1.55"/><circle cx="236.3" cy="1130.4" r="1.55"/><circle cx="235.4" cy="1111.4" r="1.55"/></g></svg>
<svg class="p" style="left:873px" width="475" height="1215" viewBox="0 0 475 1215">
<g fill="#000018"><circle cx="47.3" cy="40.2" r="1.55"/><circle cx="43.5" cy="47.3" r="1.55"/><circle cx="56.3" cy="47.3" r="1.55"/><circle cx="108.5" cy="66.4" r="1.55"/><circle cx="123.3" cy="63.4" r="1.55"/><circle cx="142.6" cy="58.2" r="1.55"/><circle cx="161.4" cy="55.4" r="1.55"/><circle cx="180.4" cy="56.3" r="1.55"/><circle cx="199.5" cy="57.4" r="1.55"/><circle cx="218.3" cy="65.3" r="1.55"/><circle cx="221.3" cy="66.4" r="1.55"/><circle cx="227.3" cy="85.4" r="1.55"/><circle cx="214.7" cy="370.4" r="1.55"/><circle cx="215.3" cy="389.4" r="1.55"/><circle cx="215.3" cy="408.5" r="1.55"/><circle cx="215.3" cy="427.5" r="1.55"/><circle cx="215.3" cy="446.3" r="1.55"/><circle cx="214.7" cy="465.4" r="1.55"/><circle cx="214.7" cy="484.4" r="1.55"/><circle cx="215.3" cy="503.3" r="1.55"/><circle cx="218.3" cy="522.3" r="1.55"/><circle cx="228.4" cy="541.4" r="1.55"/><circle cx="236.3" cy="560.2" r="1.55"/><circle cx="237.4" cy="566.2" r="1.55"/><circle cx="240.4" cy="579.3" r="1.55"/><circle cx="245.3" cy="598.3" r="1.55"/><circle cx="245.3" cy="617.4" r="1.55"/><circle cx="243.4" cy="636.6" r="1.55"/><circle cx="254.3" cy="655.5" r="1.55"/><circle cx="256.2" cy="663.4" r="1.55"/><circle cx="261.3" cy="674.3" r="1.55"/><circle cx="264.3" cy="693.4" r="1.55"/><circle cx="267.3" cy="712.4" r="1.55"/><circle cx="256.2" cy="729.5" r="1.55"/><circle cx="256.2" cy="731.7" r="1.55"/><circle cx="249.4" cy="750.5" r="1.55"/><circle cx="246.4" cy="769.3" r="1.55"/><circle cx="241.4" cy="788.4" r="1.55"/><circle cx="242.3" cy="807.4" r="1.55"/><circle cx="242.3" cy="826.5" r="1.55"/><circle cx="246.4" cy="845.3" r="1.55"/><circle cx="248.3" cy="864.3" r="1.55"/><circle cx="256.2" cy="882.3" r="1.55"/><circle cx="257.5" cy="883.4" r="1.55"/><circle cx="275.3" cy="899.2" r="1.55"/><circle cx="278.3" cy="902.4" r="1.55"/><circle cx="285.3" cy="921.3" r="1.55"/><circle cx="294.3" cy="940.3" r="1.55"/><circle cx="294.3" cy="941.4" r="1.55"/><circle cx="298.4" cy="959.4" r="1.55"/><circle cx="306.3" cy="978.4" r="1.55"/><circle cx="296.2" cy="997.5" r="1.55"/><circle cx="294.3" cy="1000.5" r="1.55"/><circle cx="289.4" cy="1016.5" r="1.55"/><circle cx="275.3" cy="1031.3" r="1.55"/><circle cx="268.2" cy="1035.3" r="1.55"/><circle cx="256.2" cy="1046.5" r="1.55"/><circle cx="252.4" cy="1054.4" r="1.55"/><circle cx="244.4" cy="1073.4" r="1.55"/><circle cx="237.4" cy="1087.4" r="1.55"/><circle cx="236.3" cy="1092.5" r="1.55"/><circle cx="9.4" cy="1026.4" r="1.55"/><circle cx="28.3" cy="1032.3" r="1.55"/><circle cx="33.4" cy="1035.3" r="1.55"/><circle cx="47.3" cy="1049.3" r="1.55"/><circle cx="63.1" cy="1054.4" r="1.55"/><circle cx="66.1" cy="1054.4" r="1.55"/><circle cx="85.4" cy="1059.3" r="1.55"/><circle cx="104.5" cy="1069.4" r="1.55"/><circle cx="110.4" cy="1073.4" r="1.55"/><circle cx="123.3" cy="1085.4" r="1.55"/><circle cx="132.5" cy="1092.5" r="1.55"/><circle cx="142.6" cy="1097.4" r="1.55"/><circle cx="161.4" cy="1110.3" r="1.55"/><circle cx="162.7" cy="1111.4" r="1.55"/><circle cx="180.4" cy="1128.3" r="1.55"/><circle cx="182.4" cy="1130.4" r="1.55"/><circle cx="199.5" cy="1141.6" r="1.55"/><circle cx="218.3" cy="1135.3" r="1.55"/><circle cx="236.3" cy="1130.4" r="1.55"/><circle cx="235.4" cy="1111.4" r="1.55"/></g></svg>
<svg class="p" style="left:1730px" width="475" height="1215" viewBox="0 0 475 1215">
<g fill="#000018"><circle cx="47.3" cy="40.2" r="1.55"/><circle cx="43.5" cy="47.3" r="1.55"/><circle cx="56.3" cy="47.3" r="1.55"/><circle cx="108.5" cy="66.4" r="1.55"/><circle cx="123.3" cy="63.4" r="1.55"/><circle cx="142.6" cy="58.2" r="1.55"/><circle cx="161.4" cy="55.4" r="1.55"/><circle cx="180.4" cy="56.3" r="1.55"/><circle cx="199.5" cy="57.4" r="1.55"/><circle cx="218.3" cy="65.3" r="1.55"/><circle cx="221.3" cy="66.4" r="1.55"/><circle cx="227.3" cy="85.4" r="1.55"/><circle cx="214.7" cy="370.4" r="1.55"/><circle cx="215.3" cy="389.4" r="1.55"/><circle cx="215.3" cy="408.5" r="1.55"/><circle cx="215.3" cy="427.5" r="1.55"/><circle cx="215.3" cy="446.3" r="1.55"/><circle cx="214.7" cy="465.4" r="1.55"/><circle cx="214.7" cy="484.4" r="1.55"/><circle cx="215.3" cy="503.3" r="1.55"/><circle cx="218.3" cy="522.3" r="1.55"/><circle cx="228.4" cy="541.4" r="1.55"/><circle cx="236.3" cy="560.2" r="1.55"/><circle cx="237.4" cy="566.2" r="1.55"/><circle cx="240.4" cy="579.3" r="1.55"/><circle cx="245.3" cy="598.3" r="1.55"/><circle cx="245.3" cy="617.4" r="1.55"/><circle cx="243.4" cy="636.6" r="1.55"/><circle cx="254.3" cy="655.5" r="1.55"/><circle cx="256.2" cy="663.4" r="1.55"/><circle cx="261.3" cy="674.3" r="1.55"/><circle cx="264.3" cy="693.4" r="1.55"/><circle cx="267.3" cy="712.4" r="1.55"/><circle cx="256.2" cy="729.5" r="1.55"/><circle cx="256.2" cy="731.7" r="1.55"/><circle cx="249.4" cy="750.5" r="1.55"/><circle cx="246.4" cy="769.3" r="1.55"/><circle cx="241.4" cy="788.4" r="1.55"/><circle cx="242.3" cy="807.4" r="1.55"/><circle cx="242.3" cy="826.5" r="1.55"/><circle cx="246.4" cy="845.3" r="1.55"/><circle cx="248.3" cy="864.3" r="1.55"/><circle cx="256.2" cy="882.3" r="1.55"/><circle cx="257.5" cy="883.4" r="1.55"/><circle cx="275.3" cy="899.2" r="1.55"/><circle cx="278.3" cy="902.4" r="1.55"/><circle cx="285.3" cy="921.3" r="1.55"/><circle cx="294.3" cy="940.3" r="1.55"/><circle cx="294.3" cy="941.4" r="1.55"/><circle cx="298.4" cy="959.4" r="1.55"/><circle cx="306.3" cy="978.4" r="1.55"/><circle cx="296.2" cy="997.5" r="1.55"/><circle cx="294.3" cy="1000.5" r="1.55"/><circle cx="289.4" cy="1016.5" r="1.55"/><circle cx="275.3" cy="1031.3" r="1.55"/><circle cx="268.2" cy="1035.3" r="1.55"/><circle cx="256.2" cy="1046.5" r="1.55"/><circle cx="252.4" cy="1054.4" r="1.55"/><circle cx="244.4" cy="1073.4" r="1.55"/><circle cx="237.4" cy="1087.4" r="1.55"/><circle cx="236.3" cy="1092.5" r="1.55"/><circle cx="9.4" cy="1026.4" r="1.55"/><circle cx="28.3" cy="1032.3" r="1.55"/><circle cx="33.4" cy="1035.3" r="1.55"/><circle cx="47.3" cy="1049.3" r="1.55"/><circle cx="63.1" cy="1054.4" r="1.55"/><circle cx="66.1" cy="1054.4" r="1.55"/><circle cx="85.4" cy="1059.3" r="1.55"/><circle cx="104.5" cy="1069.4" r="1.55"/><circle cx="110.4" cy="1073.4" r="1.55"/><circle cx="123.3" cy="1085.4" r="1.55"/><circle cx="132.5" cy="1092.5" r="1.55"/><circle cx="142.6" cy="1097.4" r="1.55"/><circle cx="161.4" cy="1110.3" r="1.55"/><circle cx="162.7" cy="1111.4" r="1.55"/><circle cx="180.4" cy="1128.3" r="1.55"/><circle cx="182.4" cy="1130.4" r="1.55"/><circle cx="199.5" cy="1141.6" r="1.55"/><circle cx="218.3" cy="1135.3" r="1.55"/><circle cx="236.3" cy="1130.4" r="1.55"/><circle cx="235.4" cy="1111.4" r="1.55"/></g></svg>
<div class="lg"></div>
<div class="sw" style="top:680px;background:#ff8c40"></div>
<div class="sw" style="top:710px;background:#c8ffff"></div>
<div class="sw" style="top:741px;background:#0055ff"></div>
<div class="sw" style="top:778px;height:3px;width:45px;background:#000"></div>
<div class="sw" style="top:801px;background:#9c3232;box-sizing:border-box;border:1.5px solid #8a1c1c"></div>
<div class="lt" id="l1" style="transform:scaleX(1.115);top:676px">sand</div>
<div class="lt" id="l2" style="transform:scaleX(1.138);top:706px">whitewater</div>
<div class="lt" id="l3" style="transform:scaleX(1.115);top:737px">water</div>
<div class="lt" id="l4" style="transform:scaleX(1.13);top:767px">shoreline</div>
<div class="lt" id="l5" style="transform:scaleX(1.135);top:797px">reference shoreline buffer</div>
</body></html>
